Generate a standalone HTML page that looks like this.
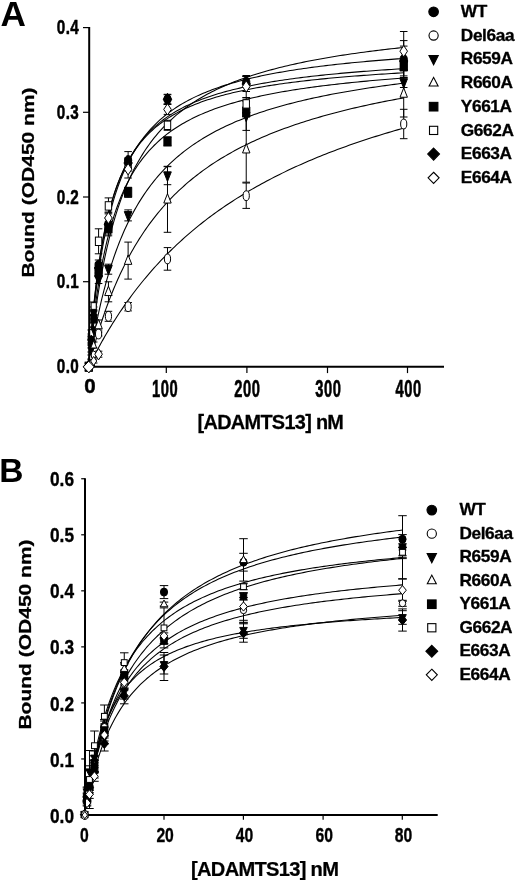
<!DOCTYPE html>
<html><head><meta charset="utf-8"><title>Figure</title>
<style>html,body{margin:0;padding:0;background:#fff;}svg{display:block;}</style>
</head><body>
<svg width="520" height="883" viewBox="0 0 520 883" font-family="Liberation Sans, Arial, Helvetica, sans-serif" font-weight="bold" fill="#000" stroke="#000">
<rect x="0" y="0" width="520" height="883" fill="#fff" stroke="none"/>
<g id="curvesA">
<polyline points="88.75,366.70 88.84,365.79 89.03,363.94 89.29,361.46 89.61,358.47 89.98,355.06 90.40,351.29 90.86,347.21 91.36,342.88 91.90,338.33 92.48,333.61 93.09,328.74 93.74,323.75 94.43,318.67 95.14,313.53 95.89,308.34 96.66,303.13 97.47,297.90 98.30,292.68 99.17,287.48 100.06,282.31 100.97,277.18 101.92,272.10 102.89,267.08 103.89,262.12 104.91,257.23 105.95,252.42 107.02,247.68 108.12,243.03 109.24,238.46 110.38,233.97 111.55,229.58 112.73,225.27 113.94,221.05 115.18,216.92 116.43,212.88 117.71,208.93 119.00,205.07 120.32,201.29 121.66,197.61 123.02,194.01 124.40,190.49 125.81,187.06 127.23,183.71 128.67,180.44 130.13,177.24 131.61,174.13 133.11,171.09 134.63,168.12 136.17,165.23 137.73,162.41 139.31,159.66 140.90,156.97 142.52,154.35 144.15,151.79 145.80,149.30 147.47,146.86 149.15,144.49 150.86,142.17 152.58,139.91 154.32,137.70 156.08,135.55 157.85,133.45 159.64,131.39 161.45,129.39 163.28,127.43 165.12,125.52 166.98,123.66 168.86,121.84 170.75,120.06 172.66,118.32 174.59,116.62 176.53,114.96 178.49,113.34 180.46,111.75 182.45,110.21 184.46,108.69 186.48,107.21 188.52,105.76 190.58,104.35 192.65,102.97 194.73,101.61 196.84,100.29 198.95,98.99 201.08,97.72 203.23,96.48 205.39,95.27 207.57,94.08 209.76,92.92 211.97,91.78 214.19,90.66 216.43,89.57 218.68,88.50 220.95,87.45 223.23,86.42 225.53,85.42 227.84,84.43 230.17,83.46 232.51,82.52 234.86,81.59 237.23,80.68 239.61,79.79 242.01,78.91 244.42,78.05 246.84,77.21 249.28,76.39 251.74,75.58 254.20,74.78 256.69,74.00 259.18,73.23 261.69,72.48 264.21,71.75 266.75,71.02 269.30,70.31 271.86,69.61 274.44,68.93 277.03,68.25 279.63,67.59 282.25,66.94 284.88,66.31 287.52,65.68 290.18,65.06 292.85,64.46 295.53,63.86 298.23,63.28 300.94,62.70 303.66,62.14 306.40,61.58 309.14,61.04 311.91,60.50 314.68,59.97 317.47,59.45 320.27,58.94 323.08,58.44 325.90,57.94 328.74,57.46 331.59,56.98 334.46,56.51 337.33,56.04 340.22,55.58 343.12,55.14 346.03,54.69 348.96,54.26 351.90,53.83 354.85,53.41 357.81,52.99 360.79,52.58 363.77,52.18 366.77,51.78 369.79,51.39 372.81,51.00 375.85,50.62 378.89,50.25 381.95,49.88 385.03,49.52 388.11,49.16 391.21,48.81 394.31,48.46 397.43,48.12 400.57,47.78 403.71,47.45" fill="none" stroke-width="1.08"/>
<polyline points="88.75,366.70 88.84,365.44 89.03,362.92 89.29,359.55 89.61,355.51 89.98,350.94 90.40,345.93 90.86,340.58 91.36,334.95 91.90,329.11 92.48,323.11 93.09,317.01 93.74,310.83 94.43,304.62 95.14,298.41 95.89,292.23 96.66,286.09 97.47,280.02 98.30,274.04 99.17,268.14 100.06,262.36 100.97,256.69 101.92,251.15 102.89,245.73 103.89,240.44 104.91,235.29 105.95,230.27 107.02,225.39 108.12,220.64 109.24,216.03 110.38,211.55 111.55,207.20 112.73,202.98 113.94,198.89 115.18,194.92 116.43,191.08 117.71,187.35 119.00,183.73 120.32,180.23 121.66,176.84 123.02,173.55 124.40,170.36 125.81,167.27 127.23,164.28 128.67,161.38 130.13,158.57 131.61,155.85 133.11,153.20 134.63,150.64 136.17,148.16 137.73,145.75 139.31,143.42 140.90,141.15 142.52,138.95 144.15,136.82 145.80,134.75 147.47,132.74 149.15,130.79 150.86,128.89 152.58,127.05 154.32,125.26 156.08,123.53 157.85,121.84 159.64,120.20 161.45,118.60 163.28,117.05 165.12,115.54 166.98,114.07 168.86,112.64 170.75,111.25 172.66,109.90 174.59,108.58 176.53,107.30 178.49,106.05 180.46,104.83 182.45,103.64 184.46,102.49 186.48,101.36 188.52,100.26 190.58,99.19 192.65,98.14 194.73,97.12 196.84,96.13 198.95,95.16 201.08,94.21 203.23,93.29 205.39,92.38 207.57,91.50 209.76,90.64 211.97,89.80 214.19,88.98 216.43,88.17 218.68,87.39 220.95,86.62 223.23,85.87 225.53,85.13 227.84,84.42 230.17,83.71 232.51,83.03 234.86,82.36 237.23,81.70 239.61,81.05 242.01,80.42 244.42,79.81 246.84,79.20 249.28,78.61 251.74,78.03 254.20,77.46 256.69,76.91 259.18,76.36 261.69,75.83 264.21,75.30 266.75,74.79 269.30,74.29 271.86,73.79 274.44,73.31 277.03,72.83 279.63,72.37 282.25,71.91 284.88,71.46 287.52,71.02 290.18,70.59 292.85,70.16 295.53,69.75 298.23,69.34 300.94,68.94 303.66,68.54 306.40,68.16 309.14,67.78 311.91,67.40 314.68,67.04 317.47,66.68 320.27,66.32 323.08,65.97 325.90,65.63 328.74,65.29 331.59,64.96 334.46,64.64 337.33,64.32 340.22,64.00 343.12,63.70 346.03,63.39 348.96,63.09 351.90,62.80 354.85,62.51 357.81,62.22 360.79,61.94 363.77,61.67 366.77,61.40 369.79,61.13 372.81,60.86 375.85,60.61 378.89,60.35 381.95,60.10 385.03,59.85 388.11,59.61 391.21,59.37 394.31,59.13 397.43,58.90 400.57,58.67 403.71,58.44" fill="none" stroke-width="1.08"/>
<polyline points="88.75,366.70 88.84,365.32 89.03,362.56 89.29,358.88 89.61,354.49 89.98,349.53 90.40,344.12 90.86,338.37 91.36,332.35 91.90,326.14 92.48,319.79 93.09,313.35 93.74,306.88 94.43,300.41 95.14,293.97 95.89,287.59 96.66,281.29 97.47,275.09 98.30,269.01 99.17,263.06 100.06,257.24 100.97,251.56 101.92,246.04 102.89,240.66 103.89,235.44 104.91,230.38 105.95,225.46 107.02,220.70 108.12,216.09 109.24,211.63 110.38,207.31 111.55,203.13 112.73,199.10 113.94,195.19 115.18,191.42 116.43,187.77 117.71,184.25 119.00,180.85 120.32,177.56 121.66,174.38 123.02,171.30 124.40,168.33 125.81,165.46 127.23,162.69 128.67,160.01 130.13,157.41 131.61,154.90 133.11,152.48 134.63,150.13 136.17,147.85 137.73,145.66 139.31,143.53 140.90,141.46 142.52,139.47 144.15,137.53 145.80,135.66 147.47,133.84 149.15,132.08 150.86,130.37 152.58,128.72 154.32,127.11 156.08,125.55 157.85,124.04 159.64,122.57 161.45,121.14 163.28,119.76 165.12,118.41 166.98,117.10 168.86,115.83 170.75,114.60 172.66,113.40 174.59,112.23 176.53,111.09 178.49,109.99 180.46,108.91 182.45,107.86 184.46,106.84 186.48,105.85 188.52,104.88 190.58,103.94 192.65,103.02 194.73,102.12 196.84,101.25 198.95,100.40 201.08,99.57 203.23,98.76 205.39,97.96 207.57,97.19 209.76,96.44 211.97,95.71 214.19,94.99 216.43,94.29 218.68,93.60 220.95,92.93 223.23,92.28 225.53,91.64 227.84,91.02 230.17,90.41 232.51,89.81 234.86,89.23 237.23,88.65 239.61,88.10 242.01,87.55 244.42,87.01 246.84,86.49 249.28,85.98 251.74,85.48 254.20,84.99 256.69,84.50 259.18,84.03 261.69,83.57 264.21,83.12 266.75,82.68 269.30,82.24 271.86,81.82 274.44,81.40 277.03,80.99 279.63,80.59 282.25,80.19 284.88,79.81 287.52,79.43 290.18,79.06 292.85,78.69 295.53,78.33 298.23,77.98 300.94,77.64 303.66,77.30 306.40,76.97 309.14,76.64 311.91,76.32 314.68,76.00 317.47,75.70 320.27,75.39 323.08,75.09 325.90,74.80 328.74,74.51 331.59,74.23 334.46,73.95 337.33,73.68 340.22,73.41 343.12,73.14 346.03,72.88 348.96,72.63 351.90,72.37 354.85,72.13 357.81,71.88 360.79,71.64 363.77,71.41 366.77,71.18 369.79,70.95 372.81,70.72 375.85,70.50 378.89,70.28 381.95,70.07 385.03,69.86 388.11,69.65 391.21,69.44 394.31,69.24 397.43,69.04 400.57,68.85 403.71,68.66" fill="none" stroke-width="1.08"/>
<polyline points="88.75,366.70 88.84,365.28 89.03,362.44 89.29,358.66 89.61,354.15 89.98,349.06 90.40,343.53 90.86,337.65 91.36,331.51 91.90,325.18 92.48,318.72 93.09,312.19 93.74,305.64 94.43,299.10 95.14,292.60 95.89,286.17 96.66,279.85 97.47,273.63 98.30,267.54 99.17,261.58 100.06,255.78 100.97,250.13 101.92,244.63 102.89,239.29 103.89,234.12 104.91,229.10 105.95,224.24 107.02,219.54 108.12,215.00 109.24,210.60 110.38,206.36 111.55,202.26 112.73,198.29 113.94,194.47 115.18,190.78 116.43,187.21 117.71,183.77 119.00,180.45 120.32,177.24 121.66,174.15 123.02,171.16 124.40,168.27 125.81,165.48 127.23,162.79 128.67,160.19 130.13,157.68 131.61,155.25 133.11,152.90 134.63,150.63 136.17,148.43 137.73,146.31 139.31,144.25 140.90,142.27 142.52,140.34 144.15,138.48 145.80,136.67 147.47,134.92 149.15,133.23 150.86,131.59 152.58,130.00 154.32,128.45 156.08,126.96 157.85,125.51 159.64,124.10 161.45,122.73 163.28,121.40 165.12,120.11 166.98,118.86 168.86,117.64 170.75,116.46 172.66,115.31 174.59,114.20 176.53,113.11 178.49,112.05 180.46,111.02 182.45,110.02 184.46,109.05 186.48,108.10 188.52,107.18 190.58,106.28 192.65,105.40 194.73,104.55 196.84,103.71 198.95,102.90 201.08,102.11 203.23,101.34 205.39,100.59 207.57,99.85 209.76,99.14 211.97,98.44 214.19,97.75 216.43,97.09 218.68,96.44 220.95,95.80 223.23,95.18 225.53,94.57 227.84,93.98 230.17,93.40 232.51,92.83 234.86,92.28 237.23,91.73 239.61,91.20 242.01,90.68 244.42,90.18 246.84,89.68 249.28,89.19 251.74,88.72 254.20,88.25 256.69,87.80 259.18,87.35 261.69,86.91 264.21,86.48 266.75,86.06 269.30,85.65 271.86,85.25 274.44,84.85 277.03,84.46 279.63,84.08 282.25,83.71 284.88,83.34 287.52,82.98 290.18,82.63 292.85,82.29 295.53,81.95 298.23,81.61 300.94,81.29 303.66,80.97 306.40,80.65 309.14,80.34 311.91,80.04 314.68,79.74 317.47,79.45 320.27,79.16 323.08,78.88 325.90,78.60 328.74,78.33 331.59,78.06 334.46,77.80 337.33,77.54 340.22,77.29 343.12,77.04 346.03,76.79 348.96,76.55 351.90,76.31 354.85,76.08 357.81,75.85 360.79,75.62 363.77,75.40 366.77,75.18 369.79,74.96 372.81,74.75 375.85,74.54 378.89,74.33 381.95,74.13 385.03,73.93 388.11,73.74 391.21,73.54 394.31,73.35 397.43,73.16 400.57,72.98 403.71,72.80" fill="none" stroke-width="1.08"/>
<polyline points="88.75,366.70 88.84,365.63 89.03,363.47 89.29,360.58 89.61,357.11 89.98,353.17 90.40,348.85 90.86,344.22 91.36,339.33 91.90,334.24 92.48,329.00 93.09,323.64 93.74,318.20 94.43,312.72 95.14,307.21 95.89,301.71 96.66,296.23 97.47,290.79 98.30,285.40 99.17,280.08 100.06,274.84 100.97,269.69 101.92,264.64 102.89,259.68 103.89,254.83 104.91,250.08 105.95,245.45 107.02,240.93 108.12,236.52 109.24,232.23 110.38,228.05 111.55,223.98 112.73,220.02 113.94,216.17 115.18,212.42 116.43,208.79 117.71,205.26 119.00,201.82 120.32,198.49 121.66,195.25 123.02,192.11 124.40,189.06 125.81,186.10 127.23,183.22 128.67,180.43 130.13,177.72 131.61,175.09 133.11,172.53 134.63,170.05 136.17,167.64 137.73,165.30 139.31,163.03 140.90,160.82 142.52,158.68 144.15,156.59 145.80,154.57 147.47,152.60 149.15,150.68 150.86,148.82 152.58,147.01 154.32,145.25 156.08,143.54 157.85,141.87 159.64,140.25 161.45,138.67 163.28,137.14 165.12,135.64 166.98,134.19 168.86,132.77 170.75,131.39 172.66,130.05 174.59,128.73 176.53,127.46 178.49,126.21 180.46,125.00 182.45,123.81 184.46,122.66 186.48,121.53 188.52,120.43 190.58,119.36 192.65,118.32 194.73,117.30 196.84,116.30 198.95,115.32 201.08,114.37 203.23,113.45 205.39,112.54 207.57,111.65 209.76,110.79 211.97,109.94 214.19,109.11 216.43,108.30 218.68,107.51 220.95,106.74 223.23,105.98 225.53,105.24 227.84,104.51 230.17,103.80 232.51,103.11 234.86,102.43 237.23,101.77 239.61,101.11 242.01,100.48 244.42,99.85 246.84,99.24 249.28,98.64 251.74,98.05 254.20,97.48 256.69,96.91 259.18,96.36 261.69,95.82 264.21,95.28 266.75,94.76 269.30,94.25 271.86,93.75 274.44,93.26 277.03,92.77 279.63,92.30 282.25,91.83 284.88,91.38 287.52,90.93 290.18,90.49 292.85,90.06 295.53,89.63 298.23,89.22 300.94,88.81 303.66,88.41 306.40,88.01 309.14,87.62 311.91,87.24 314.68,86.87 317.47,86.50 320.27,86.14 323.08,85.78 325.90,85.43 328.74,85.09 331.59,84.75 334.46,84.42 337.33,84.09 340.22,83.77 343.12,83.45 346.03,83.14 348.96,82.84 351.90,82.53 354.85,82.24 357.81,81.95 360.79,81.66 363.77,81.38 366.77,81.10 369.79,80.82 372.81,80.55 375.85,80.29 378.89,80.03 381.95,79.77 385.03,79.52 388.11,79.27 391.21,79.02 394.31,78.78 397.43,78.54 400.57,78.30 403.71,78.07" fill="none" stroke-width="1.08"/>
<polyline points="88.75,366.70 88.84,366.09 89.03,364.85 89.29,363.19 89.61,361.17 89.98,358.85 90.40,356.28 90.86,353.48 91.36,350.49 91.90,347.32 92.48,344.01 93.09,340.57 93.74,337.02 94.43,333.37 95.14,329.65 95.89,325.86 96.66,322.02 97.47,318.15 98.30,314.24 99.17,310.31 100.06,306.37 100.97,302.43 101.92,298.49 102.89,294.57 103.89,290.66 104.91,286.78 105.95,282.92 107.02,279.10 108.12,275.31 109.24,271.55 110.38,267.85 111.55,264.18 112.73,260.56 113.94,256.99 115.18,253.47 116.43,250.01 117.71,246.59 119.00,243.23 120.32,239.92 121.66,236.67 123.02,233.47 124.40,230.33 125.81,227.25 127.23,224.21 128.67,221.24 130.13,218.31 131.61,215.45 133.11,212.63 134.63,209.87 136.17,207.16 137.73,204.51 139.31,201.90 140.90,199.35 142.52,196.85 144.15,194.39 145.80,191.99 147.47,189.63 149.15,187.32 150.86,185.05 152.58,182.83 154.32,180.66 156.08,178.52 157.85,176.43 159.64,174.38 161.45,172.38 163.28,170.41 165.12,168.48 166.98,166.59 168.86,164.74 170.75,162.93 172.66,161.15 174.59,159.40 176.53,157.69 178.49,156.02 180.46,154.38 182.45,152.77 184.46,151.19 186.48,149.64 188.52,148.12 190.58,146.63 192.65,145.17 194.73,143.74 196.84,142.34 198.95,140.96 201.08,139.61 203.23,138.28 205.39,136.98 207.57,135.71 209.76,134.46 211.97,133.23 214.19,132.02 216.43,130.84 218.68,129.68 220.95,128.54 223.23,127.42 225.53,126.32 227.84,125.24 230.17,124.18 232.51,123.14 234.86,122.12 237.23,121.12 239.61,120.13 242.01,119.16 244.42,118.21 246.84,117.28 249.28,116.36 251.74,115.46 254.20,114.57 256.69,113.70 259.18,112.84 261.69,112.00 264.21,111.17 266.75,110.36 269.30,109.56 271.86,108.77 274.44,108.00 277.03,107.23 279.63,106.49 282.25,105.75 284.88,105.03 287.52,104.31 290.18,103.61 292.85,102.92 295.53,102.24 298.23,101.58 300.94,100.92 303.66,100.27 306.40,99.63 309.14,99.01 311.91,98.39 314.68,97.78 317.47,97.18 320.27,96.60 323.08,96.02 325.90,95.44 328.74,94.88 331.59,94.33 334.46,93.78 337.33,93.24 340.22,92.71 343.12,92.19 346.03,91.68 348.96,91.17 351.90,90.67 354.85,90.18 357.81,89.69 360.79,89.22 363.77,88.75 366.77,88.28 369.79,87.82 372.81,87.37 375.85,86.93 378.89,86.49 381.95,86.05 385.03,85.63 388.11,85.21 391.21,84.79 394.31,84.38 397.43,83.98 400.57,83.58 403.71,83.19" fill="none" stroke-width="1.08"/>
<polyline points="88.75,366.70 88.84,366.32 89.03,365.56 89.29,364.52 89.61,363.25 89.98,361.80 90.40,360.17 90.86,358.38 91.36,356.46 91.90,354.42 92.48,352.26 93.09,349.99 93.74,347.64 94.43,345.20 95.14,342.68 95.89,340.10 96.66,337.45 97.47,334.75 98.30,332.00 99.17,329.21 100.06,326.38 100.97,323.53 101.92,320.64 102.89,317.73 103.89,314.81 104.91,311.87 105.95,308.92 107.02,305.96 108.12,303.01 109.24,300.05 110.38,297.09 111.55,294.14 112.73,291.20 113.94,288.26 115.18,285.34 116.43,282.43 117.71,279.54 119.00,276.67 120.32,273.81 121.66,270.98 123.02,268.17 124.40,265.38 125.81,262.61 127.23,259.87 128.67,257.15 130.13,254.46 131.61,251.80 133.11,249.17 134.63,246.56 136.17,243.98 137.73,241.43 139.31,238.91 140.90,236.42 142.52,233.96 144.15,231.53 145.80,229.13 147.47,226.76 149.15,224.41 150.86,222.10 152.58,219.82 154.32,217.57 156.08,215.35 157.85,213.16 159.64,211.00 161.45,208.86 163.28,206.76 165.12,204.68 166.98,202.64 168.86,200.62 170.75,198.63 172.66,196.67 174.59,194.74 176.53,192.83 178.49,190.95 180.46,189.10 182.45,187.28 184.46,185.48 186.48,183.70 188.52,181.96 190.58,180.23 192.65,178.54 194.73,176.86 196.84,175.21 198.95,173.59 201.08,171.99 203.23,170.41 205.39,168.86 207.57,167.32 209.76,165.81 211.97,164.32 214.19,162.86 216.43,161.41 218.68,159.99 220.95,158.58 223.23,157.20 225.53,155.84 227.84,154.49 230.17,153.17 232.51,151.86 234.86,150.58 237.23,149.31 239.61,148.06 242.01,146.83 244.42,145.61 246.84,144.41 249.28,143.23 251.74,142.07 254.20,140.92 256.69,139.79 259.18,138.68 261.69,137.58 264.21,136.49 266.75,135.42 269.30,134.37 271.86,133.33 274.44,132.30 277.03,131.29 279.63,130.30 282.25,129.31 284.88,128.34 287.52,127.39 290.18,126.44 292.85,125.51 295.53,124.60 298.23,123.69 300.94,122.80 303.66,121.92 306.40,121.05 309.14,120.19 311.91,119.34 314.68,118.51 317.47,117.68 320.27,116.87 323.08,116.07 325.90,115.27 328.74,114.49 331.59,113.72 334.46,112.96 337.33,112.21 340.22,111.46 343.12,110.73 346.03,110.01 348.96,109.30 351.90,108.59 354.85,107.89 357.81,107.21 360.79,106.53 363.77,105.86 366.77,105.20 369.79,104.54 372.81,103.90 375.85,103.26 378.89,102.63 381.95,102.01 385.03,101.40 388.11,100.79 391.21,100.19 394.31,99.60 397.43,99.01 400.57,98.44 403.71,97.87" fill="none" stroke-width="1.08"/>
<polyline points="88.75,366.70 88.84,366.51 89.03,366.12 89.29,365.59 89.61,364.95 89.98,364.20 90.40,363.36 90.86,362.44 91.36,361.44 91.90,360.37 92.48,359.23 93.09,358.03 93.74,356.77 94.43,355.45 95.14,354.08 95.89,352.66 96.66,351.20 97.47,349.69 98.30,348.14 99.17,346.55 100.06,344.93 100.97,343.27 101.92,341.58 102.89,339.86 103.89,338.11 104.91,336.33 105.95,334.53 107.02,332.71 108.12,330.86 109.24,329.00 110.38,327.12 111.55,325.22 112.73,323.31 113.94,321.38 115.18,319.44 116.43,317.48 117.71,315.52 119.00,313.55 120.32,311.57 121.66,309.58 123.02,307.59 124.40,305.59 125.81,303.59 127.23,301.58 128.67,299.57 130.13,297.56 131.61,295.55 133.11,293.54 134.63,291.53 136.17,289.53 137.73,287.52 139.31,285.52 140.90,283.52 142.52,281.52 144.15,279.53 145.80,277.54 147.47,275.56 149.15,273.59 150.86,271.62 152.58,269.66 154.32,267.70 156.08,265.76 157.85,263.82 159.64,261.89 161.45,259.96 163.28,258.05 165.12,256.15 166.98,254.25 168.86,252.37 170.75,250.50 172.66,248.63 174.59,246.78 176.53,244.94 178.49,243.11 180.46,241.29 182.45,239.48 184.46,237.68 186.48,235.89 188.52,234.12 190.58,232.35 192.65,230.60 194.73,228.86 196.84,227.14 198.95,225.42 201.08,223.72 203.23,222.03 205.39,220.35 207.57,218.69 209.76,217.03 211.97,215.39 214.19,213.76 216.43,212.15 218.68,210.54 220.95,208.95 223.23,207.37 225.53,205.81 227.84,204.25 230.17,202.71 232.51,201.18 234.86,199.67 237.23,198.16 239.61,196.67 242.01,195.19 244.42,193.72 246.84,192.27 249.28,190.82 251.74,189.39 254.20,187.97 256.69,186.57 259.18,185.17 261.69,183.79 264.21,182.42 266.75,181.06 269.30,179.71 271.86,178.37 274.44,177.05 277.03,175.74 279.63,174.43 282.25,173.14 284.88,171.87 287.52,170.60 290.18,169.34 292.85,168.09 295.53,166.86 298.23,165.63 300.94,164.42 303.66,163.22 306.40,162.03 309.14,160.85 311.91,159.67 314.68,158.51 317.47,157.36 320.27,156.22 323.08,155.09 325.90,153.97 328.74,152.86 331.59,151.76 334.46,150.67 337.33,149.59 340.22,148.52 343.12,147.46 346.03,146.41 348.96,145.36 351.90,144.33 354.85,143.30 357.81,142.29 360.79,141.28 363.77,140.29 366.77,139.30 369.79,138.32 372.81,137.35 375.85,136.38 378.89,135.43 381.95,134.48 385.03,133.55 388.11,132.62 391.21,131.70 394.31,130.79 397.43,129.88 400.57,128.98 403.71,128.10" fill="none" stroke-width="1.08"/>
</g>
<g id="dataA">
<line x1="91.21" y1="334.00" x2="91.21" y2="340.00" stroke-width="1.0"/>
<line x1="87.41" y1="334.00" x2="95.01" y2="334.00" stroke-width="1.0"/>
<line x1="87.41" y1="340.00" x2="95.01" y2="340.00" stroke-width="1.0"/>
<line x1="93.67" y1="307.00" x2="93.67" y2="315.00" stroke-width="1.0"/>
<line x1="89.87" y1="307.00" x2="97.47" y2="307.00" stroke-width="1.0"/>
<line x1="89.87" y1="315.00" x2="97.47" y2="315.00" stroke-width="1.0"/>
<line x1="98.59" y1="260.00" x2="98.59" y2="270.00" stroke-width="1.0"/>
<line x1="94.79" y1="260.00" x2="102.39" y2="260.00" stroke-width="1.0"/>
<line x1="94.79" y1="270.00" x2="102.39" y2="270.00" stroke-width="1.0"/>
<line x1="108.44" y1="218.00" x2="108.44" y2="230.00" stroke-width="1.0"/>
<line x1="104.64" y1="218.00" x2="112.23" y2="218.00" stroke-width="1.0"/>
<line x1="104.64" y1="230.00" x2="112.23" y2="230.00" stroke-width="1.0"/>
<line x1="128.12" y1="151.60" x2="128.12" y2="169.20" stroke-width="1.0"/>
<line x1="124.32" y1="151.60" x2="131.92" y2="151.60" stroke-width="1.0"/>
<line x1="124.32" y1="169.20" x2="131.92" y2="169.20" stroke-width="1.0"/>
<line x1="167.49" y1="94.80" x2="167.49" y2="103.80" stroke-width="1.0"/>
<line x1="163.69" y1="94.80" x2="171.29" y2="94.80" stroke-width="1.0"/>
<line x1="163.69" y1="103.80" x2="171.29" y2="103.80" stroke-width="1.0"/>
<line x1="246.23" y1="76.50" x2="246.23" y2="87.50" stroke-width="1.0"/>
<line x1="242.43" y1="76.50" x2="250.03" y2="76.50" stroke-width="1.0"/>
<line x1="242.43" y1="87.50" x2="250.03" y2="87.50" stroke-width="1.0"/>
<line x1="403.71" y1="40.60" x2="403.71" y2="77.60" stroke-width="1.0"/>
<line x1="399.91" y1="40.60" x2="407.51" y2="40.60" stroke-width="1.0"/>
<line x1="399.91" y1="77.60" x2="407.51" y2="77.60" stroke-width="1.0"/>
<line x1="91.21" y1="360.00" x2="91.21" y2="362.00" stroke-width="1.0"/>
<line x1="87.41" y1="360.00" x2="95.01" y2="360.00" stroke-width="1.0"/>
<line x1="87.41" y1="362.00" x2="95.01" y2="362.00" stroke-width="1.0"/>
<line x1="93.67" y1="353.50" x2="93.67" y2="356.50" stroke-width="1.0"/>
<line x1="89.87" y1="353.50" x2="97.47" y2="353.50" stroke-width="1.0"/>
<line x1="89.87" y1="356.50" x2="97.47" y2="356.50" stroke-width="1.0"/>
<line x1="98.59" y1="332.00" x2="98.59" y2="336.00" stroke-width="1.0"/>
<line x1="94.79" y1="332.00" x2="102.39" y2="332.00" stroke-width="1.0"/>
<line x1="94.79" y1="336.00" x2="102.39" y2="336.00" stroke-width="1.0"/>
<line x1="108.44" y1="311.30" x2="108.44" y2="321.30" stroke-width="1.0"/>
<line x1="104.64" y1="311.30" x2="112.23" y2="311.30" stroke-width="1.0"/>
<line x1="104.64" y1="321.30" x2="112.23" y2="321.30" stroke-width="1.0"/>
<line x1="128.12" y1="302.50" x2="128.12" y2="310.90" stroke-width="1.0"/>
<line x1="124.32" y1="302.50" x2="131.92" y2="302.50" stroke-width="1.0"/>
<line x1="124.32" y1="310.90" x2="131.92" y2="310.90" stroke-width="1.0"/>
<line x1="167.49" y1="247.60" x2="167.49" y2="270.20" stroke-width="1.0"/>
<line x1="163.69" y1="247.60" x2="171.29" y2="247.60" stroke-width="1.0"/>
<line x1="163.69" y1="270.20" x2="171.29" y2="270.20" stroke-width="1.0"/>
<line x1="246.23" y1="183.00" x2="246.23" y2="208.40" stroke-width="1.0"/>
<line x1="242.43" y1="183.00" x2="250.03" y2="183.00" stroke-width="1.0"/>
<line x1="242.43" y1="208.40" x2="250.03" y2="208.40" stroke-width="1.0"/>
<line x1="403.71" y1="109.30" x2="403.71" y2="138.70" stroke-width="1.0"/>
<line x1="399.91" y1="109.30" x2="407.51" y2="109.30" stroke-width="1.0"/>
<line x1="399.91" y1="138.70" x2="407.51" y2="138.70" stroke-width="1.0"/>
<line x1="91.21" y1="348.00" x2="91.21" y2="352.00" stroke-width="1.0"/>
<line x1="87.41" y1="348.00" x2="95.01" y2="348.00" stroke-width="1.0"/>
<line x1="87.41" y1="352.00" x2="95.01" y2="352.00" stroke-width="1.0"/>
<line x1="93.67" y1="327.00" x2="93.67" y2="333.00" stroke-width="1.0"/>
<line x1="89.87" y1="327.00" x2="97.47" y2="327.00" stroke-width="1.0"/>
<line x1="89.87" y1="333.00" x2="97.47" y2="333.00" stroke-width="1.0"/>
<line x1="98.59" y1="275.50" x2="98.59" y2="283.50" stroke-width="1.0"/>
<line x1="94.79" y1="275.50" x2="102.39" y2="275.50" stroke-width="1.0"/>
<line x1="94.79" y1="283.50" x2="102.39" y2="283.50" stroke-width="1.0"/>
<line x1="108.44" y1="264.20" x2="108.44" y2="274.20" stroke-width="1.0"/>
<line x1="104.64" y1="264.20" x2="112.23" y2="264.20" stroke-width="1.0"/>
<line x1="104.64" y1="274.20" x2="112.23" y2="274.20" stroke-width="1.0"/>
<line x1="128.12" y1="209.90" x2="128.12" y2="220.90" stroke-width="1.0"/>
<line x1="124.32" y1="209.90" x2="131.92" y2="209.90" stroke-width="1.0"/>
<line x1="124.32" y1="220.90" x2="131.92" y2="220.90" stroke-width="1.0"/>
<line x1="167.49" y1="166.70" x2="167.49" y2="184.70" stroke-width="1.0"/>
<line x1="163.69" y1="166.70" x2="171.29" y2="166.70" stroke-width="1.0"/>
<line x1="163.69" y1="184.70" x2="171.29" y2="184.70" stroke-width="1.0"/>
<line x1="246.23" y1="101.60" x2="246.23" y2="130.40" stroke-width="1.0"/>
<line x1="242.43" y1="101.60" x2="250.03" y2="101.60" stroke-width="1.0"/>
<line x1="242.43" y1="130.40" x2="250.03" y2="130.40" stroke-width="1.0"/>
<line x1="403.71" y1="77.50" x2="403.71" y2="87.50" stroke-width="1.0"/>
<line x1="399.91" y1="77.50" x2="407.51" y2="77.50" stroke-width="1.0"/>
<line x1="399.91" y1="87.50" x2="407.51" y2="87.50" stroke-width="1.0"/>
<line x1="91.21" y1="355.00" x2="91.21" y2="359.00" stroke-width="1.0"/>
<line x1="87.41" y1="355.00" x2="95.01" y2="355.00" stroke-width="1.0"/>
<line x1="87.41" y1="359.00" x2="95.01" y2="359.00" stroke-width="1.0"/>
<line x1="93.67" y1="342.00" x2="93.67" y2="348.00" stroke-width="1.0"/>
<line x1="89.87" y1="342.00" x2="97.47" y2="342.00" stroke-width="1.0"/>
<line x1="89.87" y1="348.00" x2="97.47" y2="348.00" stroke-width="1.0"/>
<line x1="98.59" y1="320.00" x2="98.59" y2="330.00" stroke-width="1.0"/>
<line x1="94.79" y1="320.00" x2="102.39" y2="320.00" stroke-width="1.0"/>
<line x1="94.79" y1="330.00" x2="102.39" y2="330.00" stroke-width="1.0"/>
<line x1="108.44" y1="281.80" x2="108.44" y2="301.80" stroke-width="1.0"/>
<line x1="104.64" y1="281.80" x2="112.23" y2="281.80" stroke-width="1.0"/>
<line x1="104.64" y1="301.80" x2="112.23" y2="301.80" stroke-width="1.0"/>
<line x1="128.12" y1="242.10" x2="128.12" y2="279.10" stroke-width="1.0"/>
<line x1="124.32" y1="242.10" x2="131.92" y2="242.10" stroke-width="1.0"/>
<line x1="124.32" y1="279.10" x2="131.92" y2="279.10" stroke-width="1.0"/>
<line x1="167.49" y1="166.30" x2="167.49" y2="232.30" stroke-width="1.0"/>
<line x1="163.69" y1="166.30" x2="171.29" y2="166.30" stroke-width="1.0"/>
<line x1="163.69" y1="232.30" x2="171.29" y2="232.30" stroke-width="1.0"/>
<line x1="246.23" y1="116.20" x2="246.23" y2="182.20" stroke-width="1.0"/>
<line x1="242.43" y1="116.20" x2="250.03" y2="116.20" stroke-width="1.0"/>
<line x1="242.43" y1="182.20" x2="250.03" y2="182.20" stroke-width="1.0"/>
<line x1="403.71" y1="70.00" x2="403.71" y2="117.00" stroke-width="1.0"/>
<line x1="399.91" y1="70.00" x2="407.51" y2="70.00" stroke-width="1.0"/>
<line x1="399.91" y1="117.00" x2="407.51" y2="117.00" stroke-width="1.0"/>
<line x1="91.21" y1="339.00" x2="91.21" y2="345.00" stroke-width="1.0"/>
<line x1="87.41" y1="339.00" x2="95.01" y2="339.00" stroke-width="1.0"/>
<line x1="87.41" y1="345.00" x2="95.01" y2="345.00" stroke-width="1.0"/>
<line x1="93.67" y1="315.00" x2="93.67" y2="323.00" stroke-width="1.0"/>
<line x1="89.87" y1="315.00" x2="97.47" y2="315.00" stroke-width="1.0"/>
<line x1="89.87" y1="323.00" x2="97.47" y2="323.00" stroke-width="1.0"/>
<line x1="98.59" y1="267.00" x2="98.59" y2="277.00" stroke-width="1.0"/>
<line x1="94.79" y1="267.00" x2="102.39" y2="267.00" stroke-width="1.0"/>
<line x1="94.79" y1="277.00" x2="102.39" y2="277.00" stroke-width="1.0"/>
<line x1="108.44" y1="222.00" x2="108.44" y2="234.00" stroke-width="1.0"/>
<line x1="104.64" y1="222.00" x2="112.23" y2="222.00" stroke-width="1.0"/>
<line x1="104.64" y1="234.00" x2="112.23" y2="234.00" stroke-width="1.0"/>
<line x1="128.12" y1="187.30" x2="128.12" y2="197.30" stroke-width="1.0"/>
<line x1="124.32" y1="187.30" x2="131.92" y2="187.30" stroke-width="1.0"/>
<line x1="124.32" y1="197.30" x2="131.92" y2="197.30" stroke-width="1.0"/>
<line x1="167.49" y1="137.40" x2="167.49" y2="145.40" stroke-width="1.0"/>
<line x1="163.69" y1="137.40" x2="171.29" y2="137.40" stroke-width="1.0"/>
<line x1="163.69" y1="145.40" x2="171.29" y2="145.40" stroke-width="1.0"/>
<line x1="246.23" y1="107.00" x2="246.23" y2="117.00" stroke-width="1.0"/>
<line x1="242.43" y1="107.00" x2="250.03" y2="107.00" stroke-width="1.0"/>
<line x1="242.43" y1="117.00" x2="250.03" y2="117.00" stroke-width="1.0"/>
<line x1="403.71" y1="62.00" x2="403.71" y2="70.00" stroke-width="1.0"/>
<line x1="399.91" y1="62.00" x2="407.51" y2="62.00" stroke-width="1.0"/>
<line x1="399.91" y1="70.00" x2="407.51" y2="70.00" stroke-width="1.0"/>
<line x1="91.21" y1="330.00" x2="91.21" y2="336.00" stroke-width="1.0"/>
<line x1="87.41" y1="330.00" x2="95.01" y2="330.00" stroke-width="1.0"/>
<line x1="87.41" y1="336.00" x2="95.01" y2="336.00" stroke-width="1.0"/>
<line x1="93.67" y1="302.00" x2="93.67" y2="310.00" stroke-width="1.0"/>
<line x1="89.87" y1="302.00" x2="97.47" y2="302.00" stroke-width="1.0"/>
<line x1="89.87" y1="310.00" x2="97.47" y2="310.00" stroke-width="1.0"/>
<line x1="98.59" y1="228.80" x2="98.59" y2="253.80" stroke-width="1.0"/>
<line x1="94.79" y1="228.80" x2="102.39" y2="228.80" stroke-width="1.0"/>
<line x1="94.79" y1="253.80" x2="102.39" y2="253.80" stroke-width="1.0"/>
<line x1="108.44" y1="197.90" x2="108.44" y2="213.90" stroke-width="1.0"/>
<line x1="104.64" y1="197.90" x2="112.23" y2="197.90" stroke-width="1.0"/>
<line x1="104.64" y1="213.90" x2="112.23" y2="213.90" stroke-width="1.0"/>
<line x1="128.12" y1="159.00" x2="128.12" y2="171.00" stroke-width="1.0"/>
<line x1="124.32" y1="159.00" x2="131.92" y2="159.00" stroke-width="1.0"/>
<line x1="124.32" y1="171.00" x2="131.92" y2="171.00" stroke-width="1.0"/>
<line x1="167.49" y1="120.30" x2="167.49" y2="130.30" stroke-width="1.0"/>
<line x1="163.69" y1="120.30" x2="171.29" y2="120.30" stroke-width="1.0"/>
<line x1="163.69" y1="130.30" x2="171.29" y2="130.30" stroke-width="1.0"/>
<line x1="246.23" y1="97.90" x2="246.23" y2="109.90" stroke-width="1.0"/>
<line x1="242.43" y1="97.90" x2="250.03" y2="97.90" stroke-width="1.0"/>
<line x1="242.43" y1="109.90" x2="250.03" y2="109.90" stroke-width="1.0"/>
<line x1="403.71" y1="62.00" x2="403.71" y2="70.00" stroke-width="1.0"/>
<line x1="399.91" y1="62.00" x2="407.51" y2="62.00" stroke-width="1.0"/>
<line x1="399.91" y1="70.00" x2="407.51" y2="70.00" stroke-width="1.0"/>
<line x1="91.21" y1="337.00" x2="91.21" y2="343.00" stroke-width="1.0"/>
<line x1="87.41" y1="337.00" x2="95.01" y2="337.00" stroke-width="1.0"/>
<line x1="87.41" y1="343.00" x2="95.01" y2="343.00" stroke-width="1.0"/>
<line x1="93.67" y1="311.00" x2="93.67" y2="319.00" stroke-width="1.0"/>
<line x1="89.87" y1="311.00" x2="97.47" y2="311.00" stroke-width="1.0"/>
<line x1="89.87" y1="319.00" x2="97.47" y2="319.00" stroke-width="1.0"/>
<line x1="98.59" y1="263.00" x2="98.59" y2="273.00" stroke-width="1.0"/>
<line x1="94.79" y1="263.00" x2="102.39" y2="263.00" stroke-width="1.0"/>
<line x1="94.79" y1="273.00" x2="102.39" y2="273.00" stroke-width="1.0"/>
<line x1="108.44" y1="212.80" x2="108.44" y2="235.80" stroke-width="1.0"/>
<line x1="104.64" y1="212.80" x2="112.23" y2="212.80" stroke-width="1.0"/>
<line x1="104.64" y1="235.80" x2="112.23" y2="235.80" stroke-width="1.0"/>
<line x1="128.12" y1="158.00" x2="128.12" y2="168.00" stroke-width="1.0"/>
<line x1="124.32" y1="158.00" x2="131.92" y2="158.00" stroke-width="1.0"/>
<line x1="124.32" y1="168.00" x2="131.92" y2="168.00" stroke-width="1.0"/>
<line x1="167.49" y1="94.30" x2="167.49" y2="104.30" stroke-width="1.0"/>
<line x1="163.69" y1="94.30" x2="171.29" y2="94.30" stroke-width="1.0"/>
<line x1="163.69" y1="104.30" x2="171.29" y2="104.30" stroke-width="1.0"/>
<line x1="246.23" y1="76.50" x2="246.23" y2="91.50" stroke-width="1.0"/>
<line x1="242.43" y1="76.50" x2="250.03" y2="76.50" stroke-width="1.0"/>
<line x1="242.43" y1="91.50" x2="250.03" y2="91.50" stroke-width="1.0"/>
<line x1="403.71" y1="46.10" x2="403.71" y2="75.90" stroke-width="1.0"/>
<line x1="399.91" y1="46.10" x2="407.51" y2="46.10" stroke-width="1.0"/>
<line x1="399.91" y1="75.90" x2="407.51" y2="75.90" stroke-width="1.0"/>
<line x1="91.21" y1="361.50" x2="91.21" y2="365.50" stroke-width="1.0"/>
<line x1="87.41" y1="361.50" x2="95.01" y2="361.50" stroke-width="1.0"/>
<line x1="87.41" y1="365.50" x2="95.01" y2="365.50" stroke-width="1.0"/>
<line x1="93.67" y1="359.00" x2="93.67" y2="363.00" stroke-width="1.0"/>
<line x1="89.87" y1="359.00" x2="97.47" y2="359.00" stroke-width="1.0"/>
<line x1="89.87" y1="363.00" x2="97.47" y2="363.00" stroke-width="1.0"/>
<line x1="98.59" y1="351.20" x2="98.59" y2="357.20" stroke-width="1.0"/>
<line x1="94.79" y1="351.20" x2="102.39" y2="351.20" stroke-width="1.0"/>
<line x1="94.79" y1="357.20" x2="102.39" y2="357.20" stroke-width="1.0"/>
<line x1="108.44" y1="212.00" x2="108.44" y2="224.00" stroke-width="1.0"/>
<line x1="104.64" y1="212.00" x2="112.23" y2="212.00" stroke-width="1.0"/>
<line x1="104.64" y1="224.00" x2="112.23" y2="224.00" stroke-width="1.0"/>
<line x1="128.12" y1="160.40" x2="128.12" y2="178.00" stroke-width="1.0"/>
<line x1="124.32" y1="160.40" x2="131.92" y2="160.40" stroke-width="1.0"/>
<line x1="124.32" y1="178.00" x2="131.92" y2="178.00" stroke-width="1.0"/>
<line x1="167.49" y1="104.40" x2="167.49" y2="114.40" stroke-width="1.0"/>
<line x1="163.69" y1="104.40" x2="171.29" y2="104.40" stroke-width="1.0"/>
<line x1="163.69" y1="114.40" x2="171.29" y2="114.40" stroke-width="1.0"/>
<line x1="246.23" y1="75.50" x2="246.23" y2="97.50" stroke-width="1.0"/>
<line x1="242.43" y1="75.50" x2="250.03" y2="75.50" stroke-width="1.0"/>
<line x1="242.43" y1="97.50" x2="250.03" y2="97.50" stroke-width="1.0"/>
<line x1="403.71" y1="31.50" x2="403.71" y2="70.90" stroke-width="1.0"/>
<line x1="399.91" y1="31.50" x2="407.51" y2="31.50" stroke-width="1.0"/>
<line x1="399.91" y1="70.90" x2="407.51" y2="70.90" stroke-width="1.0"/>
<ellipse cx="88.75" cy="366.70" rx="3.60" ry="4.80" fill="#000" stroke="#000" stroke-width="1.0"/>
<ellipse cx="88.75" cy="366.70" rx="3.10" ry="4.90" fill="#fff" stroke="#000" stroke-width="1.0"/>
<polygon points="84.95,362.86 92.55,362.86 88.75,372.46" fill="#000" stroke="#000" stroke-width="1.0"/>
<polygon points="85.05,370.46 92.45,370.46 88.75,361.06" fill="#fff" stroke="#000" stroke-width="1.0"/>
<rect x="85.15" y="362.10" width="7.20" height="9.20" fill="#000" stroke="#000" stroke-width="1.0"/>
<rect x="85.55" y="362.50" width="6.40" height="8.40" fill="#fff" stroke="#000" stroke-width="1.0"/>
<polygon points="88.75,360.70 92.95,366.70 88.75,372.70 84.55,366.70" fill="#000" stroke="#000" stroke-width="1.0"/>
<polygon points="88.75,361.15 94.25,366.90 88.75,372.65 83.25,366.90" fill="#fff" stroke="#000" stroke-width="1.0"/>
<ellipse cx="91.21" cy="337.00" rx="2.88" ry="3.84" fill="#000" stroke="#000" stroke-width="1.0"/>
<ellipse cx="91.21" cy="361.00" rx="2.48" ry="3.92" fill="#fff" stroke="#000" stroke-width="1.0"/>
<polygon points="88.17,346.93 94.25,346.93 91.21,354.61" fill="#000" stroke="#000" stroke-width="1.0"/>
<polygon points="88.25,360.01 94.17,360.01 91.21,352.49" fill="#fff" stroke="#000" stroke-width="1.0"/>
<rect x="88.33" y="338.32" width="5.76" height="7.36" fill="#000" stroke="#000" stroke-width="1.0"/>
<rect x="88.65" y="329.64" width="5.12" height="6.72" fill="#fff" stroke="#000" stroke-width="1.0"/>
<polygon points="91.21,335.20 94.57,340.00 91.21,344.80 87.85,340.00" fill="#000" stroke="#000" stroke-width="1.0"/>
<polygon points="91.21,358.94 94.25,363.50 91.21,368.06 88.17,363.50" fill="#fff" stroke="#000" stroke-width="1.0"/>
<ellipse cx="93.67" cy="311.00" rx="2.88" ry="3.84" fill="#000" stroke="#000" stroke-width="1.0"/>
<ellipse cx="93.67" cy="355.00" rx="2.48" ry="3.92" fill="#fff" stroke="#000" stroke-width="1.0"/>
<polygon points="90.63,326.93 96.71,326.93 93.67,334.61" fill="#000" stroke="#000" stroke-width="1.0"/>
<polygon points="90.71,348.01 96.63,348.01 93.67,340.49" fill="#fff" stroke="#000" stroke-width="1.0"/>
<rect x="90.79" y="315.32" width="5.76" height="7.36" fill="#000" stroke="#000" stroke-width="1.0"/>
<rect x="91.11" y="302.64" width="5.12" height="6.72" fill="#fff" stroke="#000" stroke-width="1.0"/>
<polygon points="93.67,310.20 97.03,315.00 93.67,319.80 90.31,315.00" fill="#000" stroke="#000" stroke-width="1.0"/>
<polygon points="93.67,356.44 96.71,361.00 93.67,365.56 90.63,361.00" fill="#fff" stroke="#000" stroke-width="1.0"/>
<ellipse cx="98.59" cy="265.00" rx="3.60" ry="4.80" fill="#000" stroke="#000" stroke-width="1.0"/>
<ellipse cx="98.59" cy="334.00" rx="3.10" ry="4.90" fill="#fff" stroke="#000" stroke-width="1.0"/>
<polygon points="94.79,275.66 102.39,275.66 98.59,285.26" fill="#000" stroke="#000" stroke-width="1.0"/>
<polygon points="94.89,328.76 102.29,328.76 98.59,319.36" fill="#fff" stroke="#000" stroke-width="1.0"/>
<rect x="94.99" y="267.40" width="7.20" height="9.20" fill="#000" stroke="#000" stroke-width="1.0"/>
<rect x="95.39" y="237.10" width="6.40" height="8.40" fill="#fff" stroke="#000" stroke-width="1.0"/>
<polygon points="98.59,262.00 102.79,268.00 98.59,274.00 94.39,268.00" fill="#000" stroke="#000" stroke-width="1.0"/>
<polygon points="98.59,348.50 102.39,354.20 98.59,359.90 94.79,354.20" fill="#fff" stroke="#000" stroke-width="1.0"/>
<ellipse cx="108.44" cy="224.00" rx="3.60" ry="4.80" fill="#000" stroke="#000" stroke-width="1.0"/>
<ellipse cx="108.44" cy="316.30" rx="3.10" ry="4.90" fill="#fff" stroke="#000" stroke-width="1.0"/>
<polygon points="104.64,265.36 112.23,265.36 108.44,274.96" fill="#000" stroke="#000" stroke-width="1.0"/>
<polygon points="104.73,295.56 112.14,295.56 108.44,286.16" fill="#fff" stroke="#000" stroke-width="1.0"/>
<rect x="104.84" y="223.40" width="7.20" height="9.20" fill="#000" stroke="#000" stroke-width="1.0"/>
<rect x="105.23" y="201.70" width="6.40" height="8.40" fill="#fff" stroke="#000" stroke-width="1.0"/>
<polygon points="108.44,218.30 112.64,224.30 108.44,230.30 104.23,224.30" fill="#000" stroke="#000" stroke-width="1.0"/>
<polygon points="108.44,212.30 112.23,218.00 108.44,223.70 104.64,218.00" fill="#fff" stroke="#000" stroke-width="1.0"/>
<ellipse cx="128.12" cy="160.40" rx="3.60" ry="4.80" fill="#000" stroke="#000" stroke-width="1.0"/>
<ellipse cx="128.12" cy="306.70" rx="3.10" ry="4.90" fill="#fff" stroke="#000" stroke-width="1.0"/>
<polygon points="124.32,211.56 131.92,211.56 128.12,221.16" fill="#000" stroke="#000" stroke-width="1.0"/>
<polygon points="124.42,264.36 131.82,264.36 128.12,254.96" fill="#fff" stroke="#000" stroke-width="1.0"/>
<rect x="124.52" y="187.70" width="7.20" height="9.20" fill="#000" stroke="#000" stroke-width="1.0"/>
<rect x="124.92" y="160.80" width="6.40" height="8.40" fill="#fff" stroke="#000" stroke-width="1.0"/>
<polygon points="128.12,157.00 132.32,163.00 128.12,169.00 123.92,163.00" fill="#000" stroke="#000" stroke-width="1.0"/>
<polygon points="128.12,163.50 131.92,169.20 128.12,174.90 124.32,169.20" fill="#fff" stroke="#000" stroke-width="1.0"/>
<ellipse cx="167.49" cy="99.30" rx="3.60" ry="4.80" fill="#000" stroke="#000" stroke-width="1.0"/>
<ellipse cx="167.49" cy="258.90" rx="3.10" ry="4.90" fill="#fff" stroke="#000" stroke-width="1.0"/>
<polygon points="163.69,171.86 171.29,171.86 167.49,181.46" fill="#000" stroke="#000" stroke-width="1.0"/>
<polygon points="163.79,203.06 171.19,203.06 167.49,193.66" fill="#fff" stroke="#000" stroke-width="1.0"/>
<rect x="163.89" y="136.80" width="7.20" height="9.20" fill="#000" stroke="#000" stroke-width="1.0"/>
<rect x="164.29" y="121.10" width="6.40" height="8.40" fill="#fff" stroke="#000" stroke-width="1.0"/>
<polygon points="167.49,93.30 171.69,99.30 167.49,105.30 163.29,99.30" fill="#000" stroke="#000" stroke-width="1.0"/>
<polygon points="167.49,103.70 171.29,109.40 167.49,115.10 163.69,109.40" fill="#fff" stroke="#000" stroke-width="1.0"/>
<ellipse cx="246.23" cy="82.00" rx="3.60" ry="4.80" fill="#000" stroke="#000" stroke-width="1.0"/>
<ellipse cx="246.23" cy="195.70" rx="3.10" ry="4.90" fill="#fff" stroke="#000" stroke-width="1.0"/>
<polygon points="242.43,112.16 250.03,112.16 246.23,121.76" fill="#000" stroke="#000" stroke-width="1.0"/>
<polygon points="242.53,152.96 249.93,152.96 246.23,143.56" fill="#fff" stroke="#000" stroke-width="1.0"/>
<rect x="242.63" y="107.40" width="7.20" height="9.20" fill="#000" stroke="#000" stroke-width="1.0"/>
<rect x="243.03" y="99.70" width="6.40" height="8.40" fill="#fff" stroke="#000" stroke-width="1.0"/>
<polygon points="246.23,78.00 250.43,84.00 246.23,90.00 242.03,84.00" fill="#000" stroke="#000" stroke-width="1.0"/>
<polygon points="246.23,80.80 250.03,86.50 246.23,92.20 242.43,86.50" fill="#fff" stroke="#000" stroke-width="1.0"/>
<rect x="400.51" y="61.80" width="6.40" height="8.40" fill="#fff" stroke="#000" stroke-width="1.0"/>
<ellipse cx="403.71" cy="59.10" rx="3.60" ry="4.80" fill="#000" stroke="#000" stroke-width="1.0"/>
<ellipse cx="403.71" cy="124.00" rx="3.10" ry="4.90" fill="#fff" stroke="#000" stroke-width="1.0"/>
<polygon points="399.91,78.66 407.51,78.66 403.71,88.26" fill="#000" stroke="#000" stroke-width="1.0"/>
<polygon points="400.01,97.26 407.41,97.26 403.71,87.86" fill="#fff" stroke="#000" stroke-width="1.0"/>
<rect x="400.11" y="61.40" width="7.20" height="9.20" fill="#000" stroke="#000" stroke-width="1.0"/>
<polygon points="403.71,55.00 407.91,61.00 403.71,67.00 399.51,61.00" fill="#000" stroke="#000" stroke-width="1.0"/>
<polygon points="403.71,45.50 407.51,51.20 403.71,56.90 399.91,51.20" fill="#fff" stroke="#000" stroke-width="1.0"/>
</g>
<g id="axesA">
<line x1="89.20" y1="27.10" x2="89.20" y2="367.70" stroke-width="2"/>
<line x1="88.20" y1="366.70" x2="444.00" y2="366.70" stroke-width="2"/>
<line x1="83.00" y1="27.60" x2="89.20" y2="27.60" stroke-width="1.2"/>
<line x1="83.00" y1="112.30" x2="89.20" y2="112.30" stroke-width="1.2"/>
<line x1="83.00" y1="197.00" x2="89.20" y2="197.00" stroke-width="1.2"/>
<line x1="83.00" y1="281.70" x2="89.20" y2="281.70" stroke-width="1.2"/>
<line x1="83.00" y1="366.40" x2="89.20" y2="366.40" stroke-width="1.2"/>
<line x1="166.30" y1="366.70" x2="166.30" y2="373.10" stroke-width="1.2"/>
<line x1="246.90" y1="366.70" x2="246.90" y2="373.10" stroke-width="1.2"/>
<line x1="327.50" y1="366.70" x2="327.50" y2="373.10" stroke-width="1.2"/>
<line x1="407.50" y1="366.70" x2="407.50" y2="373.10" stroke-width="1.2"/>
</g>
<polygon points="88.75,361.15 94.25,366.90 88.75,372.65 83.25,366.90" fill="#fff" stroke="#000" stroke-width="1.0"/>
<g id="textA" stroke="none">
<text transform="translate(79.20,34.30) scale(0.77,1)" font-size="19.8" text-anchor="end" stroke="#000" stroke-width="0.45" vector-effect="non-scaling-stroke" stroke-linejoin="round" letter-spacing="0.5">0.4</text>
<text transform="translate(79.20,119.00) scale(0.77,1)" font-size="19.8" text-anchor="end" stroke="#000" stroke-width="0.45" vector-effect="non-scaling-stroke" stroke-linejoin="round" letter-spacing="0.5">0.3</text>
<text transform="translate(79.20,203.70) scale(0.77,1)" font-size="19.8" text-anchor="end" stroke="#000" stroke-width="0.45" vector-effect="non-scaling-stroke" stroke-linejoin="round" letter-spacing="0.5">0.2</text>
<text transform="translate(79.20,288.40) scale(0.77,1)" font-size="19.8" text-anchor="end" stroke="#000" stroke-width="0.45" vector-effect="non-scaling-stroke" stroke-linejoin="round" letter-spacing="0.5">0.1</text>
<text transform="translate(79.20,373.10) scale(0.77,1)" font-size="19.8" text-anchor="end" stroke="#000" stroke-width="0.45" vector-effect="non-scaling-stroke" stroke-linejoin="round" letter-spacing="0.5">0.0</text>
<text transform="translate(89.90,393.20) scale(1.06,1)" font-size="19.4" text-anchor="middle" stroke="#000" stroke-width="0.45" vector-effect="non-scaling-stroke" stroke-linejoin="round" >0</text>
<text transform="translate(165.10,396.80) scale(0.64,1)" font-size="23.0" text-anchor="middle" stroke="#000" stroke-width="0.5" vector-effect="non-scaling-stroke" stroke-linejoin="round" letter-spacing="0.8">100</text>
<text transform="translate(247.30,396.80) scale(0.64,1)" font-size="23.0" text-anchor="middle" stroke="#000" stroke-width="0.5" vector-effect="non-scaling-stroke" stroke-linejoin="round" letter-spacing="0.8">200</text>
<text transform="translate(328.30,396.80) scale(0.64,1)" font-size="23.0" text-anchor="middle" stroke="#000" stroke-width="0.5" vector-effect="non-scaling-stroke" stroke-linejoin="round" letter-spacing="0.8">300</text>
<text transform="translate(408.60,396.80) scale(0.64,1)" font-size="23.0" text-anchor="middle" stroke="#000" stroke-width="0.5" vector-effect="non-scaling-stroke" stroke-linejoin="round" letter-spacing="0.8">400</text>
<text transform="translate(270.40,429.30) scale(0.995,1)" font-size="20.0" text-anchor="middle" stroke="#000" stroke-width="0.25" vector-effect="non-scaling-stroke" stroke-linejoin="round" letter-spacing="-0.7">[ADAMTS13] nM</text>
<text transform="translate(33.80,182.50) rotate(-90) scale(1.215,1)" font-size="17.3" text-anchor="middle" stroke="#000" stroke-width="0.3" vector-effect="non-scaling-stroke" stroke-linejoin="round" >Bound (OD450 nm)</text>
<text transform="translate(0.50,26.40)" font-size="35.2" text-anchor="start"  >A</text>
</g>
<g id="legA">
<ellipse cx="433.60" cy="11.80" rx="4.80" ry="4.80" fill="#000" stroke="#000" stroke-width="1.1"/>
<ellipse cx="433.60" cy="35.52" rx="4.60" ry="4.60" fill="#fff" stroke="#000" stroke-width="1.1"/>
<polygon points="428.95,55.52 438.25,55.52 433.60,64.82" fill="#000" stroke="#000" stroke-width="1.1"/>
<polygon points="429.10,85.95 438.10,85.95 433.60,77.35" fill="#fff" stroke="#000" stroke-width="1.1"/>
<rect x="429.30" y="102.38" width="8.60" height="8.60" fill="#000" stroke="#000" stroke-width="1.1"/>
<rect x="429.50" y="126.30" width="8.20" height="8.20" fill="#fff" stroke="#000" stroke-width="1.1"/>
<polygon points="433.60,148.12 439.50,154.12 433.60,160.12 427.70,154.12" fill="#000" stroke="#000" stroke-width="1.1"/>
<polygon points="433.60,172.24 439.10,177.84 433.60,183.44 428.10,177.84" fill="#fff" stroke="#000" stroke-width="1.1"/>
</g><g stroke="none">
<text transform="translate(460.80,16.90) scale(1.1,1)" font-size="15.7" text-anchor="start" stroke="#000" stroke-width="0.3" vector-effect="non-scaling-stroke" stroke-linejoin="round" letter-spacing="-0.35">WT</text>
<text transform="translate(460.80,40.62) scale(1.1,1)" font-size="15.7" text-anchor="start" stroke="#000" stroke-width="0.3" vector-effect="non-scaling-stroke" stroke-linejoin="round" letter-spacing="-0.35">Del6aa</text>
<text transform="translate(460.80,64.34) scale(1.1,1)" font-size="15.7" text-anchor="start" stroke="#000" stroke-width="0.3" vector-effect="non-scaling-stroke" stroke-linejoin="round" letter-spacing="-0.35">R659A</text>
<text transform="translate(460.80,88.06) scale(1.1,1)" font-size="15.7" text-anchor="start" stroke="#000" stroke-width="0.3" vector-effect="non-scaling-stroke" stroke-linejoin="round" letter-spacing="-0.35">R660A</text>
<text transform="translate(460.80,111.78) scale(1.1,1)" font-size="15.7" text-anchor="start" stroke="#000" stroke-width="0.3" vector-effect="non-scaling-stroke" stroke-linejoin="round" letter-spacing="-0.35">Y661A</text>
<text transform="translate(460.80,135.50) scale(1.1,1)" font-size="15.7" text-anchor="start" stroke="#000" stroke-width="0.3" vector-effect="non-scaling-stroke" stroke-linejoin="round" letter-spacing="-0.35">G662A</text>
<text transform="translate(460.80,159.22) scale(1.1,1)" font-size="15.7" text-anchor="start" stroke="#000" stroke-width="0.3" vector-effect="non-scaling-stroke" stroke-linejoin="round" letter-spacing="-0.35">E663A</text>
<text transform="translate(460.80,182.94) scale(1.1,1)" font-size="15.7" text-anchor="start" stroke="#000" stroke-width="0.3" vector-effect="non-scaling-stroke" stroke-linejoin="round" letter-spacing="-0.35">E664A</text>
</g>
<g id="curvesB">
<polyline points="84.50,815.00 84.59,814.39 84.79,813.17 85.05,811.51 85.37,809.51 85.74,807.20 86.16,804.64 86.63,801.86 87.13,798.89 87.68,795.74 88.27,792.44 88.89,789.02 89.54,785.48 90.23,781.85 90.95,778.15 91.70,774.37 92.49,770.55 93.30,766.68 94.14,762.78 95.02,758.86 95.92,754.93 96.84,751.00 97.80,747.07 98.78,743.14 99.78,739.24 100.81,735.36 101.87,731.50 102.95,727.67 104.06,723.88 105.19,720.12 106.34,716.41 107.52,712.74 108.71,709.12 109.94,705.54 111.18,702.01 112.45,698.53 113.74,695.11 115.05,691.73 116.38,688.42 117.73,685.15 119.10,681.94 120.50,678.78 121.91,675.68 123.35,672.63 124.81,669.64 126.28,666.70 127.78,663.82 129.29,660.99 130.83,658.21 132.38,655.48 133.95,652.81 135.54,650.19 137.16,647.61 138.78,645.09 140.43,642.62 142.10,640.19 143.78,637.82 145.49,635.49 147.21,633.20 148.95,630.96 150.70,628.77 152.48,626.62 154.27,624.51 156.08,622.44 157.90,620.41 159.75,618.43 161.61,616.48 163.49,614.57 165.38,612.70 167.29,610.87 169.22,609.07 171.17,607.31 173.13,605.58 175.10,603.89 177.10,602.23 179.11,600.60 181.14,599.00 183.18,597.44 185.24,595.90 187.31,594.39 189.40,592.92 191.51,591.47 193.63,590.05 195.77,588.65 197.92,587.29 200.09,585.94 202.27,584.63 204.47,583.33 206.68,582.07 208.91,580.82 211.16,579.60 213.41,578.40 215.69,577.23 217.98,576.07 220.28,574.94 222.60,573.82 224.93,572.73 227.28,571.65 229.64,570.60 232.02,569.56 234.41,568.55 236.82,567.55 239.24,566.57 241.67,565.60 244.12,564.65 246.58,563.72 249.06,562.81 251.55,561.91 254.06,561.02 256.57,560.15 259.11,559.30 261.65,558.46 264.21,557.63 266.79,556.82 269.38,556.02 271.98,555.23 274.59,554.46 277.22,553.70 279.86,552.95 282.52,552.22 285.19,551.50 287.87,550.78 290.57,550.08 293.28,549.39 296.00,548.72 298.74,548.05 301.48,547.39 304.25,546.74 307.02,546.11 309.81,545.48 312.61,544.86 315.42,544.26 318.25,543.66 321.09,543.07 323.94,542.49 326.81,541.92 329.69,541.35 332.58,540.80 335.48,540.25 338.40,539.71 341.33,539.18 344.27,538.66 347.22,538.14 350.19,537.64 353.17,537.14 356.16,536.64 359.16,536.16 362.18,535.68 365.21,535.21 368.25,534.74 371.30,534.28 374.37,533.83 377.44,533.38 380.53,532.94 383.64,532.51 386.75,532.08 389.88,531.66 393.01,531.24 396.16,530.83 399.33,530.42 402.50,530.02" fill="none" stroke-width="1.08"/>
<polyline points="84.50,815.00 84.59,814.36 84.79,813.08 85.05,811.35 85.37,809.25 85.74,806.85 86.16,804.18 86.63,801.29 87.13,798.19 87.68,794.93 88.27,791.51 88.89,787.97 89.54,784.32 90.23,780.58 90.95,776.76 91.70,772.89 92.49,768.97 93.30,765.01 94.14,761.04 95.02,757.04 95.92,753.05 96.84,749.06 97.80,745.08 98.78,741.11 99.78,737.18 100.81,733.27 101.87,729.39 102.95,725.56 104.06,721.76 105.19,718.01 106.34,714.31 107.52,710.66 108.71,707.06 109.94,703.51 111.18,700.02 112.45,696.59 113.74,693.21 115.05,689.89 116.38,686.63 117.73,683.42 119.10,680.28 120.50,677.19 121.91,674.16 123.35,671.19 124.81,668.28 126.28,665.42 127.78,662.62 129.29,659.88 130.83,657.19 132.38,654.55 133.95,651.97 135.54,649.45 137.16,646.97 138.78,644.54 140.43,642.17 142.10,639.84 143.78,637.57 145.49,635.34 147.21,633.15 148.95,631.01 150.70,628.92 152.48,626.87 154.27,624.86 156.08,622.90 157.90,620.97 159.75,619.09 161.61,617.24 163.49,615.44 165.38,613.67 167.29,611.93 169.22,610.24 171.17,608.57 173.13,606.95 175.10,605.35 177.10,603.79 179.11,602.26 181.14,600.75 183.18,599.28 185.24,597.84 187.31,596.43 189.40,595.05 191.51,593.69 193.63,592.36 195.77,591.06 197.92,589.78 200.09,588.53 202.27,587.30 204.47,586.10 206.68,584.91 208.91,583.75 211.16,582.62 213.41,581.50 215.69,580.41 217.98,579.34 220.28,578.28 222.60,577.25 224.93,576.23 227.28,575.24 229.64,574.26 232.02,573.30 234.41,572.36 236.82,571.44 239.24,570.53 241.67,569.64 244.12,568.76 246.58,567.90 249.06,567.05 251.55,566.22 254.06,565.41 256.57,564.61 259.11,563.82 261.65,563.05 264.21,562.29 266.79,561.54 269.38,560.80 271.98,560.08 274.59,559.37 277.22,558.67 279.86,557.99 282.52,557.31 285.19,556.65 287.87,555.99 290.57,555.35 293.28,554.72 296.00,554.10 298.74,553.48 301.48,552.88 304.25,552.29 307.02,551.71 309.81,551.13 312.61,550.57 315.42,550.01 318.25,549.47 321.09,548.93 323.94,548.40 326.81,547.87 329.69,547.36 332.58,546.85 335.48,546.35 338.40,545.86 341.33,545.38 344.27,544.90 347.22,544.43 350.19,543.97 353.17,543.51 356.16,543.06 359.16,542.62 362.18,542.18 365.21,541.75 368.25,541.33 371.30,540.91 374.37,540.50 377.44,540.09 380.53,539.69 383.64,539.30 386.75,538.91 389.88,538.52 393.01,538.15 396.16,537.77 399.33,537.40 402.50,537.04" fill="none" stroke-width="1.08"/>
<polyline points="84.50,815.00 84.59,814.30 84.79,812.88 85.05,810.96 85.37,808.66 85.74,806.02 86.16,803.10 86.63,799.95 87.13,796.59 87.68,793.07 88.27,789.40 88.89,785.61 89.54,781.72 90.23,777.76 90.95,773.74 91.70,769.69 92.49,765.60 93.30,761.50 94.14,757.40 95.02,753.30 95.92,749.23 96.84,745.18 97.80,741.16 98.78,737.19 99.78,733.26 100.81,729.37 101.87,725.55 102.95,721.78 104.06,718.06 105.19,714.42 106.34,710.83 107.52,707.31 108.71,703.86 109.94,700.48 111.18,697.16 112.45,693.91 113.74,690.73 115.05,687.62 116.38,684.57 117.73,681.59 119.10,678.68 120.50,675.83 121.91,673.05 123.35,670.33 124.81,667.68 126.28,665.08 127.78,662.55 129.29,660.08 130.83,657.66 132.38,655.30 133.95,653.00 135.54,650.75 137.16,648.55 138.78,646.41 140.43,644.31 142.10,642.27 143.78,640.27 145.49,638.32 147.21,636.42 148.95,634.56 150.70,632.75 152.48,630.98 154.27,629.24 156.08,627.55 157.90,625.90 159.75,624.29 161.61,622.71 163.49,621.17 165.38,619.67 167.29,618.20 169.22,616.76 171.17,615.35 173.13,613.98 175.10,612.64 177.10,611.32 179.11,610.04 181.14,608.78 183.18,607.56 185.24,606.35 187.31,605.18 189.40,604.03 191.51,602.90 193.63,601.80 195.77,600.73 197.92,599.67 200.09,598.64 202.27,597.63 204.47,596.64 206.68,595.67 208.91,594.72 211.16,593.79 213.41,592.88 215.69,591.98 217.98,591.11 220.28,590.25 222.60,589.41 224.93,588.59 227.28,587.78 229.64,586.99 232.02,586.21 234.41,585.45 236.82,584.70 239.24,583.97 241.67,583.25 244.12,582.55 246.58,581.86 249.06,581.18 251.55,580.51 254.06,579.86 256.57,579.22 259.11,578.59 261.65,577.97 264.21,577.36 266.79,576.77 269.38,576.18 271.98,575.60 274.59,575.04 277.22,574.48 279.86,573.94 282.52,573.40 285.19,572.88 287.87,572.36 290.57,571.85 293.28,571.35 296.00,570.86 298.74,570.38 301.48,569.90 304.25,569.43 307.02,568.97 309.81,568.52 312.61,568.08 315.42,567.64 318.25,567.21 321.09,566.79 323.94,566.37 326.81,565.96 329.69,565.56 332.58,565.16 335.48,564.77 338.40,564.38 341.33,564.00 344.27,563.63 347.22,563.26 350.19,562.90 353.17,562.55 356.16,562.20 359.16,561.85 362.18,561.51 365.21,561.18 368.25,560.85 371.30,560.52 374.37,560.20 377.44,559.88 380.53,559.57 383.64,559.27 386.75,558.96 389.88,558.67 393.01,558.37 396.16,558.08 399.33,557.80 402.50,557.52" fill="none" stroke-width="1.08"/>
<polyline points="84.50,815.00 84.59,814.41 84.79,813.22 85.05,811.61 85.37,809.66 85.74,807.43 86.16,804.95 86.63,802.26 87.13,799.38 87.68,796.35 88.27,793.18 88.89,789.89 89.54,786.50 90.23,783.03 90.95,779.49 91.70,775.90 92.49,772.26 93.30,768.59 94.14,764.91 95.02,761.21 95.92,757.50 96.84,753.80 97.80,750.12 98.78,746.45 99.78,742.80 100.81,739.18 101.87,735.59 102.95,732.04 104.06,728.53 105.19,725.06 106.34,721.64 107.52,718.26 108.71,714.93 109.94,711.65 111.18,708.43 112.45,705.25 113.74,702.13 115.05,699.06 116.38,696.05 117.73,693.09 119.10,690.19 120.50,687.34 121.91,684.54 123.35,681.80 124.81,679.11 126.28,676.47 127.78,673.89 129.29,671.36 130.83,668.88 132.38,666.45 133.95,664.07 135.54,661.74 137.16,659.45 138.78,657.22 140.43,655.03 142.10,652.89 143.78,650.79 145.49,648.73 147.21,646.72 148.95,644.75 150.70,642.82 152.48,640.94 154.27,639.09 156.08,637.28 157.90,635.50 159.75,633.77 161.61,632.07 163.49,630.41 165.38,628.78 167.29,627.18 169.22,625.62 171.17,624.09 173.13,622.59 175.10,621.12 177.10,619.69 179.11,618.28 181.14,616.90 183.18,615.55 185.24,614.22 187.31,612.92 189.40,611.65 191.51,610.40 193.63,609.18 195.77,607.98 197.92,606.81 200.09,605.65 202.27,604.53 204.47,603.42 206.68,602.33 208.91,601.27 211.16,600.22 213.41,599.20 215.69,598.19 217.98,597.21 220.28,596.24 222.60,595.29 224.93,594.36 227.28,593.44 229.64,592.54 232.02,591.66 234.41,590.80 236.82,589.95 239.24,589.11 241.67,588.30 244.12,587.49 246.58,586.70 249.06,585.93 251.55,585.16 254.06,584.41 256.57,583.68 259.11,582.96 261.65,582.24 264.21,581.55 266.79,580.86 269.38,580.19 271.98,579.52 274.59,578.87 277.22,578.23 279.86,577.60 282.52,576.98 285.19,576.37 287.87,575.77 290.57,575.18 293.28,574.60 296.00,574.03 298.74,573.47 301.48,572.92 304.25,572.37 307.02,571.84 309.81,571.31 312.61,570.79 315.42,570.28 318.25,569.78 321.09,569.29 323.94,568.80 326.81,568.32 329.69,567.85 332.58,567.38 335.48,566.93 338.40,566.47 341.33,566.03 344.27,565.59 347.22,565.16 350.19,564.74 353.17,564.32 356.16,563.91 359.16,563.50 362.18,563.10 365.21,562.71 368.25,562.32 371.30,561.93 374.37,561.56 377.44,561.18 380.53,560.82 383.64,560.45 386.75,560.10 389.88,559.74 393.01,559.40 396.16,559.06 399.33,558.72 402.50,558.38" fill="none" stroke-width="1.08"/>
<polyline points="84.50,815.00 84.59,814.38 84.79,813.13 85.05,811.45 85.37,809.41 85.74,807.09 86.16,804.52 86.63,801.73 87.13,798.77 87.68,795.66 88.27,792.42 88.89,789.07 89.54,785.64 90.23,782.14 90.95,778.58 91.70,774.99 92.49,771.37 93.30,767.74 94.14,764.10 95.02,760.48 95.92,756.86 96.84,753.27 97.80,749.70 98.78,746.17 99.78,742.68 100.81,739.22 101.87,735.82 102.95,732.46 104.06,729.16 105.19,725.91 106.34,722.72 107.52,719.58 108.71,716.50 109.94,713.48 111.18,710.52 112.45,707.62 113.74,704.78 115.05,702.00 116.38,699.28 117.73,696.62 119.10,694.02 120.50,691.47 121.91,688.98 123.35,686.55 124.81,684.17 126.28,681.85 127.78,679.58 129.29,677.36 130.83,675.19 132.38,673.08 133.95,671.01 135.54,668.99 137.16,667.02 138.78,665.10 140.43,663.22 142.10,661.38 143.78,659.59 145.49,657.84 147.21,656.13 148.95,654.46 150.70,652.83 152.48,651.24 154.27,649.68 156.08,648.16 157.90,646.67 159.75,645.22 161.61,643.80 163.49,642.42 165.38,641.06 167.29,639.74 169.22,638.44 171.17,637.18 173.13,635.94 175.10,634.73 177.10,633.55 179.11,632.39 181.14,631.26 183.18,630.15 185.24,629.07 187.31,628.01 189.40,626.97 191.51,625.95 193.63,624.96 195.77,623.99 197.92,623.04 200.09,622.10 202.27,621.19 204.47,620.30 206.68,619.42 208.91,618.57 211.16,617.73 213.41,616.90 215.69,616.10 217.98,615.31 220.28,614.53 222.60,613.77 224.93,613.03 227.28,612.30 229.64,611.58 232.02,610.88 234.41,610.19 236.82,609.52 239.24,608.86 241.67,608.21 244.12,607.57 246.58,606.95 249.06,606.33 251.55,605.73 254.06,605.14 256.57,604.56 259.11,603.99 261.65,603.43 264.21,602.88 266.79,602.34 269.38,601.81 271.98,601.29 274.59,600.78 277.22,600.28 279.86,599.78 282.52,599.30 285.19,598.82 287.87,598.35 290.57,597.89 293.28,597.44 296.00,596.99 298.74,596.56 301.48,596.13 304.25,595.70 307.02,595.29 309.81,594.88 312.61,594.48 315.42,594.08 318.25,593.69 321.09,593.31 323.94,592.93 326.81,592.56 329.69,592.19 332.58,591.83 335.48,591.48 338.40,591.13 341.33,590.79 344.27,590.45 347.22,590.12 350.19,589.79 353.17,589.47 356.16,589.15 359.16,588.84 362.18,588.53 365.21,588.22 368.25,587.92 371.30,587.63 374.37,587.34 377.44,587.05 380.53,586.77 383.64,586.49 386.75,586.22 389.88,585.95 393.01,585.68 396.16,585.42 399.33,585.16 402.50,584.91" fill="none" stroke-width="1.08"/>
<polyline points="84.50,815.00 84.59,814.41 84.79,813.21 85.05,811.60 85.37,809.65 85.74,807.42 86.16,804.96 86.63,802.29 87.13,799.46 87.68,796.47 88.27,793.36 88.89,790.16 89.54,786.87 90.23,783.51 90.95,780.10 91.70,776.65 92.49,773.18 93.30,769.70 94.14,766.21 95.02,762.73 95.92,759.26 96.84,755.81 97.80,752.39 98.78,748.99 99.78,745.64 100.81,742.33 101.87,739.05 102.95,735.83 104.06,732.66 105.19,729.54 106.34,726.47 107.52,723.45 108.71,720.49 109.94,717.59 111.18,714.74 112.45,711.96 113.74,709.22 115.05,706.55 116.38,703.93 117.73,701.37 119.10,698.86 120.50,696.41 121.91,694.02 123.35,691.68 124.81,689.39 126.28,687.15 127.78,684.97 129.29,682.83 130.83,680.75 132.38,678.71 133.95,676.72 135.54,674.78 137.16,672.88 138.78,671.03 140.43,669.21 142.10,667.45 143.78,665.72 145.49,664.03 147.21,662.38 148.95,660.78 150.70,659.20 152.48,657.67 154.27,656.17 156.08,654.70 157.90,653.27 159.75,651.87 161.61,650.50 163.49,649.17 165.38,647.86 167.29,646.58 169.22,645.33 171.17,644.11 173.13,642.92 175.10,641.75 177.10,640.61 179.11,639.50 181.14,638.40 183.18,637.34 185.24,636.29 187.31,635.27 189.40,634.27 191.51,633.29 193.63,632.33 195.77,631.39 197.92,630.47 200.09,629.58 202.27,628.69 204.47,627.83 206.68,626.99 208.91,626.16 211.16,625.35 213.41,624.56 215.69,623.78 217.98,623.01 220.28,622.27 222.60,621.53 224.93,620.82 227.28,620.11 229.64,619.42 232.02,618.74 234.41,618.08 236.82,617.43 239.24,616.79 241.67,616.16 244.12,615.55 246.58,614.94 249.06,614.35 251.55,613.77 254.06,613.20 256.57,612.64 259.11,612.09 261.65,611.55 264.21,611.02 266.79,610.50 269.38,609.99 271.98,609.48 274.59,608.99 277.22,608.50 279.86,608.03 282.52,607.56 285.19,607.10 287.87,606.65 290.57,606.20 293.28,605.76 296.00,605.33 298.74,604.91 301.48,604.50 304.25,604.09 307.02,603.69 309.81,603.29 312.61,602.90 315.42,602.52 318.25,602.14 321.09,601.77 323.94,601.41 326.81,601.05 329.69,600.70 332.58,600.35 335.48,600.01 338.40,599.67 341.33,599.34 344.27,599.01 347.22,598.69 350.19,598.37 353.17,598.06 356.16,597.76 359.16,597.45 362.18,597.16 365.21,596.86 368.25,596.57 371.30,596.29 374.37,596.01 377.44,595.73 380.53,595.46 383.64,595.19 386.75,594.92 389.88,594.66 393.01,594.41 396.16,594.15 399.33,593.90 402.50,593.66" fill="none" stroke-width="1.08"/>
<polyline points="84.50,815.00 84.59,814.28 84.79,812.85 85.05,810.92 85.37,808.60 85.74,805.97 86.16,803.08 86.63,799.98 87.13,796.71 87.68,793.30 88.27,789.78 88.89,786.18 89.54,782.53 90.23,778.84 90.95,775.13 91.70,771.42 92.49,767.72 93.30,764.05 94.14,760.40 95.02,756.80 95.92,753.26 96.84,749.76 97.80,746.33 98.78,742.96 99.78,739.67 100.81,736.44 101.87,733.28 102.95,730.20 104.06,727.19 105.19,724.26 106.34,721.40 107.52,718.62 108.71,715.91 109.94,713.28 111.18,710.71 112.45,708.22 113.74,705.79 115.05,703.44 116.38,701.15 117.73,698.92 119.10,696.76 120.50,694.66 121.91,692.62 123.35,690.64 124.81,688.72 126.28,686.85 127.78,685.03 129.29,683.27 130.83,681.55 132.38,679.89 133.95,678.27 135.54,676.70 137.16,675.17 138.78,673.69 140.43,672.24 142.10,670.84 143.78,669.48 145.49,668.15 147.21,666.86 148.95,665.60 150.70,664.38 152.48,663.19 154.27,662.04 156.08,660.91 157.90,659.82 159.75,658.75 161.61,657.71 163.49,656.70 165.38,655.71 167.29,654.75 169.22,653.82 171.17,652.90 173.13,652.01 175.10,651.15 177.10,650.30 179.11,649.48 181.14,648.67 183.18,647.89 185.24,647.12 187.31,646.38 189.40,645.65 191.51,644.93 193.63,644.24 195.77,643.56 197.92,642.90 200.09,642.25 202.27,641.61 204.47,641.00 206.68,640.39 208.91,639.80 211.16,639.22 213.41,638.66 215.69,638.10 217.98,637.56 220.28,637.03 222.60,636.51 224.93,636.01 227.28,635.51 229.64,635.03 232.02,634.55 234.41,634.09 236.82,633.63 239.24,633.18 241.67,632.75 244.12,632.32 246.58,631.90 249.06,631.49 251.55,631.08 254.06,630.69 256.57,630.30 259.11,629.92 261.65,629.55 264.21,629.18 266.79,628.83 269.38,628.47 271.98,628.13 274.59,627.79 277.22,627.46 279.86,627.13 282.52,626.81 285.19,626.50 287.87,626.19 290.57,625.89 293.28,625.59 296.00,625.30 298.74,625.01 301.48,624.73 304.25,624.45 307.02,624.18 309.81,623.91 312.61,623.65 315.42,623.39 318.25,623.14 321.09,622.89 323.94,622.64 326.81,622.40 329.69,622.17 332.58,621.93 335.48,621.70 338.40,621.48 341.33,621.26 344.27,621.04 347.22,620.82 350.19,620.61 353.17,620.40 356.16,620.20 359.16,620.00 362.18,619.80 365.21,619.60 368.25,619.41 371.30,619.22 374.37,619.03 377.44,618.85 380.53,618.67 383.64,618.49 386.75,618.32 389.88,618.14 393.01,617.97 396.16,617.81 399.33,617.64 402.50,617.48" fill="none" stroke-width="1.08"/>
<polyline points="84.50,815.00 84.59,814.48 84.79,813.42 85.05,812.00 85.37,810.28 85.74,808.31 86.16,806.14 86.63,803.78 87.13,801.27 87.68,798.63 88.27,795.88 88.89,793.04 89.54,790.12 90.23,787.14 90.95,784.12 91.70,781.05 92.49,777.97 93.30,774.87 94.14,771.76 95.02,768.66 95.92,765.57 96.84,762.49 97.80,759.43 98.78,756.40 99.78,753.40 100.81,750.44 101.87,747.51 102.95,744.62 104.06,741.77 105.19,738.97 106.34,736.22 107.52,733.51 108.71,730.85 109.94,728.24 111.18,725.68 112.45,723.16 113.74,720.70 115.05,718.29 116.38,715.93 117.73,713.62 119.10,711.36 120.50,709.14 121.91,706.98 123.35,704.86 124.81,702.79 126.28,700.76 127.78,698.79 129.29,696.85 130.83,694.96 132.38,693.11 133.95,691.31 135.54,689.54 137.16,687.82 138.78,686.14 140.43,684.49 142.10,682.88 143.78,681.31 145.49,679.78 147.21,678.28 148.95,676.82 150.70,675.38 152.48,673.98 154.27,672.62 156.08,671.28 157.90,669.98 159.75,668.70 161.61,667.45 163.49,666.23 165.38,665.04 167.29,663.87 169.22,662.73 171.17,661.62 173.13,660.53 175.10,659.46 177.10,658.42 179.11,657.40 181.14,656.40 183.18,655.42 185.24,654.47 187.31,653.53 189.40,652.61 191.51,651.72 193.63,650.84 195.77,649.98 197.92,649.14 200.09,648.31 202.27,647.51 204.47,646.72 206.68,645.94 208.91,645.18 211.16,644.44 213.41,643.71 215.69,643.00 217.98,642.30 220.28,641.61 222.60,640.94 224.93,640.28 227.28,639.63 229.64,639.00 232.02,638.38 234.41,637.77 236.82,637.17 239.24,636.58 241.67,636.01 244.12,635.44 246.58,634.88 249.06,634.34 251.55,633.81 254.06,633.28 256.57,632.77 259.11,632.26 261.65,631.76 264.21,631.27 266.79,630.80 269.38,630.32 271.98,629.86 274.59,629.41 277.22,628.96 279.86,628.52 282.52,628.09 285.19,627.67 287.87,627.25 290.57,626.84 293.28,626.44 296.00,626.04 298.74,625.65 301.48,625.27 304.25,624.89 307.02,624.52 309.81,624.16 312.61,623.80 315.42,623.45 318.25,623.10 321.09,622.76 323.94,622.42 326.81,622.09 329.69,621.77 332.58,621.45 335.48,621.13 338.40,620.82 341.33,620.52 344.27,620.21 347.22,619.92 350.19,619.63 353.17,619.34 356.16,619.05 359.16,618.78 362.18,618.50 365.21,618.23 368.25,617.96 371.30,617.70 374.37,617.44 377.44,617.19 380.53,616.93 383.64,616.69 386.75,616.44 389.88,616.20 393.01,615.96 396.16,615.73 399.33,615.50 402.50,615.27" fill="none" stroke-width="1.08"/>
</g>
<g id="dataB">
<line x1="86.98" y1="794.00" x2="86.98" y2="802.00" stroke-width="1.0"/>
<line x1="82.73" y1="794.00" x2="91.23" y2="794.00" stroke-width="1.0"/>
<line x1="82.73" y1="802.00" x2="91.23" y2="802.00" stroke-width="1.0"/>
<line x1="89.47" y1="777.00" x2="89.47" y2="787.00" stroke-width="1.0"/>
<line x1="85.22" y1="777.00" x2="93.72" y2="777.00" stroke-width="1.0"/>
<line x1="85.22" y1="787.00" x2="93.72" y2="787.00" stroke-width="1.0"/>
<line x1="94.44" y1="756.00" x2="94.44" y2="768.00" stroke-width="1.0"/>
<line x1="90.19" y1="756.00" x2="98.69" y2="756.00" stroke-width="1.0"/>
<line x1="90.19" y1="768.00" x2="98.69" y2="768.00" stroke-width="1.0"/>
<line x1="104.38" y1="719.50" x2="104.38" y2="733.50" stroke-width="1.0"/>
<line x1="100.12" y1="719.50" x2="108.62" y2="719.50" stroke-width="1.0"/>
<line x1="100.12" y1="733.50" x2="108.62" y2="733.50" stroke-width="1.0"/>
<line x1="124.25" y1="664.00" x2="124.25" y2="680.00" stroke-width="1.0"/>
<line x1="120.00" y1="664.00" x2="128.50" y2="664.00" stroke-width="1.0"/>
<line x1="120.00" y1="680.00" x2="128.50" y2="680.00" stroke-width="1.0"/>
<line x1="164.00" y1="585.60" x2="164.00" y2="598.60" stroke-width="1.0"/>
<line x1="159.75" y1="585.60" x2="168.25" y2="585.60" stroke-width="1.0"/>
<line x1="159.75" y1="598.60" x2="168.25" y2="598.60" stroke-width="1.0"/>
<line x1="243.50" y1="553.30" x2="243.50" y2="571.10" stroke-width="1.0"/>
<line x1="239.25" y1="553.30" x2="247.75" y2="553.30" stroke-width="1.0"/>
<line x1="239.25" y1="571.10" x2="247.75" y2="571.10" stroke-width="1.0"/>
<line x1="402.50" y1="534.60" x2="402.50" y2="543.80" stroke-width="1.0"/>
<line x1="398.25" y1="534.60" x2="406.75" y2="534.60" stroke-width="1.0"/>
<line x1="398.25" y1="543.80" x2="406.75" y2="543.80" stroke-width="1.0"/>
<line x1="86.98" y1="797.00" x2="86.98" y2="803.00" stroke-width="1.0"/>
<line x1="82.73" y1="797.00" x2="91.23" y2="797.00" stroke-width="1.0"/>
<line x1="82.73" y1="803.00" x2="91.23" y2="803.00" stroke-width="1.0"/>
<line x1="89.47" y1="786.00" x2="89.47" y2="794.00" stroke-width="1.0"/>
<line x1="85.22" y1="786.00" x2="93.72" y2="786.00" stroke-width="1.0"/>
<line x1="85.22" y1="794.00" x2="93.72" y2="794.00" stroke-width="1.0"/>
<line x1="94.44" y1="763.00" x2="94.44" y2="773.00" stroke-width="1.0"/>
<line x1="90.19" y1="763.00" x2="98.69" y2="763.00" stroke-width="1.0"/>
<line x1="90.19" y1="773.00" x2="98.69" y2="773.00" stroke-width="1.0"/>
<line x1="104.38" y1="721.00" x2="104.38" y2="733.00" stroke-width="1.0"/>
<line x1="100.12" y1="721.00" x2="108.62" y2="721.00" stroke-width="1.0"/>
<line x1="100.12" y1="733.00" x2="108.62" y2="733.00" stroke-width="1.0"/>
<line x1="124.25" y1="678.00" x2="124.25" y2="690.00" stroke-width="1.0"/>
<line x1="120.00" y1="678.00" x2="128.50" y2="678.00" stroke-width="1.0"/>
<line x1="120.00" y1="690.00" x2="128.50" y2="690.00" stroke-width="1.0"/>
<line x1="164.00" y1="637.60" x2="164.00" y2="643.60" stroke-width="1.0"/>
<line x1="159.75" y1="637.60" x2="168.25" y2="637.60" stroke-width="1.0"/>
<line x1="159.75" y1="643.60" x2="168.25" y2="643.60" stroke-width="1.0"/>
<line x1="243.50" y1="597.50" x2="243.50" y2="622.90" stroke-width="1.0"/>
<line x1="239.25" y1="597.50" x2="247.75" y2="597.50" stroke-width="1.0"/>
<line x1="239.25" y1="622.90" x2="247.75" y2="622.90" stroke-width="1.0"/>
<line x1="402.50" y1="600.30" x2="402.50" y2="606.30" stroke-width="1.0"/>
<line x1="398.25" y1="600.30" x2="406.75" y2="600.30" stroke-width="1.0"/>
<line x1="398.25" y1="606.30" x2="406.75" y2="606.30" stroke-width="1.0"/>
<line x1="86.98" y1="787.00" x2="86.98" y2="797.00" stroke-width="1.0"/>
<line x1="82.73" y1="787.00" x2="91.23" y2="787.00" stroke-width="1.0"/>
<line x1="82.73" y1="797.00" x2="91.23" y2="797.00" stroke-width="1.0"/>
<line x1="89.47" y1="765.80" x2="89.47" y2="777.80" stroke-width="1.0"/>
<line x1="85.22" y1="765.80" x2="93.72" y2="765.80" stroke-width="1.0"/>
<line x1="85.22" y1="777.80" x2="93.72" y2="777.80" stroke-width="1.0"/>
<line x1="94.44" y1="751.00" x2="94.44" y2="765.00" stroke-width="1.0"/>
<line x1="90.19" y1="751.00" x2="98.69" y2="751.00" stroke-width="1.0"/>
<line x1="90.19" y1="765.00" x2="98.69" y2="765.00" stroke-width="1.0"/>
<line x1="104.38" y1="732.00" x2="104.38" y2="744.00" stroke-width="1.0"/>
<line x1="100.12" y1="732.00" x2="108.62" y2="732.00" stroke-width="1.0"/>
<line x1="100.12" y1="744.00" x2="108.62" y2="744.00" stroke-width="1.0"/>
<line x1="124.25" y1="685.00" x2="124.25" y2="699.00" stroke-width="1.0"/>
<line x1="120.00" y1="685.00" x2="128.50" y2="685.00" stroke-width="1.0"/>
<line x1="120.00" y1="699.00" x2="128.50" y2="699.00" stroke-width="1.0"/>
<line x1="164.00" y1="655.00" x2="164.00" y2="674.00" stroke-width="1.0"/>
<line x1="159.75" y1="655.00" x2="168.25" y2="655.00" stroke-width="1.0"/>
<line x1="159.75" y1="674.00" x2="168.25" y2="674.00" stroke-width="1.0"/>
<line x1="243.50" y1="622.30" x2="243.50" y2="638.30" stroke-width="1.0"/>
<line x1="239.25" y1="622.30" x2="247.75" y2="622.30" stroke-width="1.0"/>
<line x1="239.25" y1="638.30" x2="247.75" y2="638.30" stroke-width="1.0"/>
<line x1="402.50" y1="610.70" x2="402.50" y2="624.30" stroke-width="1.0"/>
<line x1="398.25" y1="610.70" x2="406.75" y2="610.70" stroke-width="1.0"/>
<line x1="398.25" y1="624.30" x2="406.75" y2="624.30" stroke-width="1.0"/>
<line x1="86.98" y1="796.00" x2="86.98" y2="802.00" stroke-width="1.0"/>
<line x1="82.73" y1="796.00" x2="91.23" y2="796.00" stroke-width="1.0"/>
<line x1="82.73" y1="802.00" x2="91.23" y2="802.00" stroke-width="1.0"/>
<line x1="89.47" y1="782.00" x2="89.47" y2="790.00" stroke-width="1.0"/>
<line x1="85.22" y1="782.00" x2="93.72" y2="782.00" stroke-width="1.0"/>
<line x1="85.22" y1="790.00" x2="93.72" y2="790.00" stroke-width="1.0"/>
<line x1="94.44" y1="760.00" x2="94.44" y2="770.00" stroke-width="1.0"/>
<line x1="90.19" y1="760.00" x2="98.69" y2="760.00" stroke-width="1.0"/>
<line x1="90.19" y1="770.00" x2="98.69" y2="770.00" stroke-width="1.0"/>
<line x1="104.38" y1="726.00" x2="104.38" y2="738.00" stroke-width="1.0"/>
<line x1="100.12" y1="726.00" x2="108.62" y2="726.00" stroke-width="1.0"/>
<line x1="100.12" y1="738.00" x2="108.62" y2="738.00" stroke-width="1.0"/>
<line x1="124.25" y1="662.70" x2="124.25" y2="674.70" stroke-width="1.0"/>
<line x1="120.00" y1="662.70" x2="128.50" y2="662.70" stroke-width="1.0"/>
<line x1="120.00" y1="674.70" x2="128.50" y2="674.70" stroke-width="1.0"/>
<line x1="164.00" y1="602.10" x2="164.00" y2="606.10" stroke-width="1.0"/>
<line x1="159.75" y1="602.10" x2="168.25" y2="602.10" stroke-width="1.0"/>
<line x1="159.75" y1="606.10" x2="168.25" y2="606.10" stroke-width="1.0"/>
<line x1="243.50" y1="538.70" x2="243.50" y2="581.10" stroke-width="1.0"/>
<line x1="239.25" y1="538.70" x2="247.75" y2="538.70" stroke-width="1.0"/>
<line x1="239.25" y1="581.10" x2="247.75" y2="581.10" stroke-width="1.0"/>
<line x1="402.50" y1="547.40" x2="402.50" y2="558.60" stroke-width="1.0"/>
<line x1="398.25" y1="547.40" x2="406.75" y2="547.40" stroke-width="1.0"/>
<line x1="398.25" y1="558.60" x2="406.75" y2="558.60" stroke-width="1.0"/>
<line x1="86.98" y1="793.00" x2="86.98" y2="801.00" stroke-width="1.0"/>
<line x1="82.73" y1="793.00" x2="91.23" y2="793.00" stroke-width="1.0"/>
<line x1="82.73" y1="801.00" x2="91.23" y2="801.00" stroke-width="1.0"/>
<line x1="89.47" y1="779.00" x2="89.47" y2="789.00" stroke-width="1.0"/>
<line x1="85.22" y1="779.00" x2="93.72" y2="779.00" stroke-width="1.0"/>
<line x1="85.22" y1="789.00" x2="93.72" y2="789.00" stroke-width="1.0"/>
<line x1="94.44" y1="760.00" x2="94.44" y2="772.00" stroke-width="1.0"/>
<line x1="90.19" y1="760.00" x2="98.69" y2="760.00" stroke-width="1.0"/>
<line x1="90.19" y1="772.00" x2="98.69" y2="772.00" stroke-width="1.0"/>
<line x1="104.38" y1="724.00" x2="104.38" y2="736.00" stroke-width="1.0"/>
<line x1="100.12" y1="724.00" x2="108.62" y2="724.00" stroke-width="1.0"/>
<line x1="100.12" y1="736.00" x2="108.62" y2="736.00" stroke-width="1.0"/>
<line x1="124.25" y1="670.00" x2="124.25" y2="682.00" stroke-width="1.0"/>
<line x1="120.00" y1="670.00" x2="128.50" y2="670.00" stroke-width="1.0"/>
<line x1="120.00" y1="682.00" x2="128.50" y2="682.00" stroke-width="1.0"/>
<line x1="164.00" y1="638.00" x2="164.00" y2="644.00" stroke-width="1.0"/>
<line x1="159.75" y1="638.00" x2="168.25" y2="638.00" stroke-width="1.0"/>
<line x1="159.75" y1="644.00" x2="168.25" y2="644.00" stroke-width="1.0"/>
<line x1="243.50" y1="593.00" x2="243.50" y2="600.00" stroke-width="1.0"/>
<line x1="239.25" y1="593.00" x2="247.75" y2="593.00" stroke-width="1.0"/>
<line x1="239.25" y1="600.00" x2="247.75" y2="600.00" stroke-width="1.0"/>
<line x1="402.50" y1="515.70" x2="402.50" y2="578.70" stroke-width="1.0"/>
<line x1="398.25" y1="515.70" x2="406.75" y2="515.70" stroke-width="1.0"/>
<line x1="398.25" y1="578.70" x2="406.75" y2="578.70" stroke-width="1.0"/>
<line x1="86.98" y1="788.00" x2="86.98" y2="800.00" stroke-width="1.0"/>
<line x1="82.73" y1="788.00" x2="91.23" y2="788.00" stroke-width="1.0"/>
<line x1="82.73" y1="800.00" x2="91.23" y2="800.00" stroke-width="1.0"/>
<line x1="89.47" y1="750.50" x2="89.47" y2="808.50" stroke-width="1.0"/>
<line x1="85.22" y1="750.50" x2="93.72" y2="750.50" stroke-width="1.0"/>
<line x1="85.22" y1="808.50" x2="93.72" y2="808.50" stroke-width="1.0"/>
<line x1="94.44" y1="731.00" x2="94.44" y2="760.40" stroke-width="1.0"/>
<line x1="90.19" y1="731.00" x2="98.69" y2="731.00" stroke-width="1.0"/>
<line x1="90.19" y1="760.40" x2="98.69" y2="760.40" stroke-width="1.0"/>
<line x1="104.38" y1="705.00" x2="104.38" y2="727.60" stroke-width="1.0"/>
<line x1="100.12" y1="705.00" x2="108.62" y2="705.00" stroke-width="1.0"/>
<line x1="100.12" y1="727.60" x2="108.62" y2="727.60" stroke-width="1.0"/>
<line x1="124.25" y1="652.80" x2="124.25" y2="672.40" stroke-width="1.0"/>
<line x1="120.00" y1="652.80" x2="128.50" y2="652.80" stroke-width="1.0"/>
<line x1="120.00" y1="672.40" x2="128.50" y2="672.40" stroke-width="1.0"/>
<line x1="164.00" y1="607.90" x2="164.00" y2="647.90" stroke-width="1.0"/>
<line x1="159.75" y1="607.90" x2="168.25" y2="607.90" stroke-width="1.0"/>
<line x1="159.75" y1="647.90" x2="168.25" y2="647.90" stroke-width="1.0"/>
<line x1="243.50" y1="583.70" x2="243.50" y2="589.70" stroke-width="1.0"/>
<line x1="239.25" y1="583.70" x2="247.75" y2="583.70" stroke-width="1.0"/>
<line x1="239.25" y1="589.70" x2="247.75" y2="589.70" stroke-width="1.0"/>
<line x1="402.50" y1="547.30" x2="402.50" y2="557.30" stroke-width="1.0"/>
<line x1="398.25" y1="547.30" x2="406.75" y2="547.30" stroke-width="1.0"/>
<line x1="398.25" y1="557.30" x2="406.75" y2="557.30" stroke-width="1.0"/>
<line x1="86.98" y1="797.00" x2="86.98" y2="805.00" stroke-width="1.0"/>
<line x1="82.73" y1="797.00" x2="91.23" y2="797.00" stroke-width="1.0"/>
<line x1="82.73" y1="805.00" x2="91.23" y2="805.00" stroke-width="1.0"/>
<line x1="89.47" y1="782.60" x2="89.47" y2="792.60" stroke-width="1.0"/>
<line x1="85.22" y1="782.60" x2="93.72" y2="782.60" stroke-width="1.0"/>
<line x1="85.22" y1="792.60" x2="93.72" y2="792.60" stroke-width="1.0"/>
<line x1="94.44" y1="766.00" x2="94.44" y2="778.00" stroke-width="1.0"/>
<line x1="90.19" y1="766.00" x2="98.69" y2="766.00" stroke-width="1.0"/>
<line x1="90.19" y1="778.00" x2="98.69" y2="778.00" stroke-width="1.0"/>
<line x1="104.38" y1="736.00" x2="104.38" y2="751.00" stroke-width="1.0"/>
<line x1="100.12" y1="736.00" x2="108.62" y2="736.00" stroke-width="1.0"/>
<line x1="100.12" y1="751.00" x2="108.62" y2="751.00" stroke-width="1.0"/>
<line x1="124.25" y1="688.00" x2="124.25" y2="703.80" stroke-width="1.0"/>
<line x1="120.00" y1="688.00" x2="128.50" y2="688.00" stroke-width="1.0"/>
<line x1="120.00" y1="703.80" x2="128.50" y2="703.80" stroke-width="1.0"/>
<line x1="164.00" y1="652.50" x2="164.00" y2="680.50" stroke-width="1.0"/>
<line x1="159.75" y1="652.50" x2="168.25" y2="652.50" stroke-width="1.0"/>
<line x1="159.75" y1="680.50" x2="168.25" y2="680.50" stroke-width="1.0"/>
<line x1="243.50" y1="623.80" x2="243.50" y2="642.20" stroke-width="1.0"/>
<line x1="239.25" y1="623.80" x2="247.75" y2="623.80" stroke-width="1.0"/>
<line x1="239.25" y1="642.20" x2="247.75" y2="642.20" stroke-width="1.0"/>
<line x1="402.50" y1="608.90" x2="402.50" y2="631.10" stroke-width="1.0"/>
<line x1="398.25" y1="608.90" x2="406.75" y2="608.90" stroke-width="1.0"/>
<line x1="398.25" y1="631.10" x2="406.75" y2="631.10" stroke-width="1.0"/>
<line x1="86.98" y1="800.00" x2="86.98" y2="806.00" stroke-width="1.0"/>
<line x1="82.73" y1="800.00" x2="91.23" y2="800.00" stroke-width="1.0"/>
<line x1="82.73" y1="806.00" x2="91.23" y2="806.00" stroke-width="1.0"/>
<line x1="89.47" y1="790.40" x2="89.47" y2="798.40" stroke-width="1.0"/>
<line x1="85.22" y1="790.40" x2="93.72" y2="790.40" stroke-width="1.0"/>
<line x1="85.22" y1="798.40" x2="93.72" y2="798.40" stroke-width="1.0"/>
<line x1="94.44" y1="771.30" x2="94.44" y2="781.30" stroke-width="1.0"/>
<line x1="90.19" y1="771.30" x2="98.69" y2="771.30" stroke-width="1.0"/>
<line x1="90.19" y1="781.30" x2="98.69" y2="781.30" stroke-width="1.0"/>
<line x1="104.38" y1="729.00" x2="104.38" y2="741.00" stroke-width="1.0"/>
<line x1="100.12" y1="729.00" x2="108.62" y2="729.00" stroke-width="1.0"/>
<line x1="100.12" y1="741.00" x2="108.62" y2="741.00" stroke-width="1.0"/>
<line x1="124.25" y1="676.30" x2="124.25" y2="688.30" stroke-width="1.0"/>
<line x1="120.00" y1="676.30" x2="128.50" y2="676.30" stroke-width="1.0"/>
<line x1="120.00" y1="688.30" x2="128.50" y2="688.30" stroke-width="1.0"/>
<line x1="164.00" y1="632.90" x2="164.00" y2="638.90" stroke-width="1.0"/>
<line x1="159.75" y1="632.90" x2="168.25" y2="632.90" stroke-width="1.0"/>
<line x1="159.75" y1="638.90" x2="168.25" y2="638.90" stroke-width="1.0"/>
<line x1="243.50" y1="592.70" x2="243.50" y2="620.30" stroke-width="1.0"/>
<line x1="239.25" y1="592.70" x2="247.75" y2="592.70" stroke-width="1.0"/>
<line x1="239.25" y1="620.30" x2="247.75" y2="620.30" stroke-width="1.0"/>
<line x1="402.50" y1="579.10" x2="402.50" y2="601.30" stroke-width="1.0"/>
<line x1="398.25" y1="579.10" x2="406.75" y2="579.10" stroke-width="1.0"/>
<line x1="398.25" y1="601.30" x2="406.75" y2="601.30" stroke-width="1.0"/>
<ellipse cx="84.50" cy="814.60" rx="3.60" ry="4.00" fill="#000" stroke="#000" stroke-width="1.0"/>
<ellipse cx="86.98" cy="798.00" rx="3.60" ry="4.00" fill="#000" stroke="#000" stroke-width="1.0"/>
<ellipse cx="89.47" cy="782.00" rx="3.60" ry="4.00" fill="#000" stroke="#000" stroke-width="1.0"/>
<ellipse cx="94.44" cy="762.00" rx="3.60" ry="4.00" fill="#000" stroke="#000" stroke-width="1.0"/>
<ellipse cx="104.38" cy="726.50" rx="3.60" ry="4.00" fill="#000" stroke="#000" stroke-width="1.0"/>
<ellipse cx="124.25" cy="672.00" rx="3.60" ry="4.00" fill="#000" stroke="#000" stroke-width="1.0"/>
<ellipse cx="164.00" cy="592.10" rx="3.60" ry="4.00" fill="#000" stroke="#000" stroke-width="1.0"/>
<ellipse cx="243.50" cy="562.20" rx="3.60" ry="4.00" fill="#000" stroke="#000" stroke-width="1.0"/>
<ellipse cx="402.50" cy="539.20" rx="3.60" ry="4.00" fill="#000" stroke="#000" stroke-width="1.0"/>
<ellipse cx="84.50" cy="814.60" rx="3.20" ry="3.50" fill="#fff" stroke="#000" stroke-width="1.0"/>
<ellipse cx="86.98" cy="800.00" rx="3.20" ry="3.50" fill="#fff" stroke="#000" stroke-width="1.0"/>
<ellipse cx="89.47" cy="790.00" rx="3.20" ry="3.50" fill="#fff" stroke="#000" stroke-width="1.0"/>
<ellipse cx="94.44" cy="768.00" rx="3.20" ry="3.50" fill="#fff" stroke="#000" stroke-width="1.0"/>
<ellipse cx="104.38" cy="727.00" rx="3.20" ry="3.50" fill="#fff" stroke="#000" stroke-width="1.0"/>
<ellipse cx="124.25" cy="684.00" rx="3.20" ry="3.50" fill="#fff" stroke="#000" stroke-width="1.0"/>
<ellipse cx="164.00" cy="640.60" rx="3.20" ry="3.50" fill="#fff" stroke="#000" stroke-width="1.0"/>
<ellipse cx="243.50" cy="610.20" rx="3.20" ry="3.50" fill="#fff" stroke="#000" stroke-width="1.0"/>
<ellipse cx="402.50" cy="603.30" rx="3.20" ry="3.50" fill="#fff" stroke="#000" stroke-width="1.0"/>
<polygon points="80.70,811.72 88.30,811.72 84.50,818.92" fill="#000" stroke="#000" stroke-width="1.0"/>
<polygon points="83.18,789.12 90.78,789.12 86.98,796.32" fill="#000" stroke="#000" stroke-width="1.0"/>
<polygon points="85.67,768.92 93.27,768.92 89.47,776.12" fill="#000" stroke="#000" stroke-width="1.0"/>
<polygon points="90.64,755.12 98.24,755.12 94.44,762.32" fill="#000" stroke="#000" stroke-width="1.0"/>
<polygon points="100.58,735.12 108.17,735.12 104.38,742.32" fill="#000" stroke="#000" stroke-width="1.0"/>
<polygon points="120.45,689.12 128.05,689.12 124.25,696.32" fill="#000" stroke="#000" stroke-width="1.0"/>
<polygon points="160.20,661.62 167.80,661.62 164.00,668.82" fill="#000" stroke="#000" stroke-width="1.0"/>
<polygon points="239.70,627.42 247.30,627.42 243.50,634.62" fill="#000" stroke="#000" stroke-width="1.0"/>
<polygon points="398.70,614.62 406.30,614.62 402.50,621.82" fill="#000" stroke="#000" stroke-width="1.0"/>
<polygon points="80.80,817.32 88.20,817.32 84.50,810.52" fill="#fff" stroke="#000" stroke-width="1.0"/>
<polygon points="83.28,801.72 90.68,801.72 86.98,794.92" fill="#fff" stroke="#000" stroke-width="1.0"/>
<polygon points="85.77,788.72 93.17,788.72 89.47,781.92" fill="#fff" stroke="#000" stroke-width="1.0"/>
<polygon points="90.74,767.72 98.14,767.72 94.44,760.92" fill="#fff" stroke="#000" stroke-width="1.0"/>
<polygon points="100.67,734.72 108.08,734.72 104.38,727.92" fill="#fff" stroke="#000" stroke-width="1.0"/>
<polygon points="120.55,671.42 127.95,671.42 124.25,664.62" fill="#fff" stroke="#000" stroke-width="1.0"/>
<polygon points="160.30,606.82 167.70,606.82 164.00,600.02" fill="#fff" stroke="#000" stroke-width="1.0"/>
<polygon points="239.80,562.62 247.20,562.62 243.50,555.82" fill="#fff" stroke="#000" stroke-width="1.0"/>
<polygon points="398.80,555.72 406.20,555.72 402.50,548.92" fill="#fff" stroke="#000" stroke-width="1.0"/>
<rect x="81.30" y="811.40" width="6.40" height="6.40" fill="#000" stroke="#000" stroke-width="1.0"/>
<rect x="83.78" y="793.80" width="6.40" height="6.40" fill="#000" stroke="#000" stroke-width="1.0"/>
<rect x="86.27" y="780.80" width="6.40" height="6.40" fill="#000" stroke="#000" stroke-width="1.0"/>
<rect x="91.24" y="762.80" width="6.40" height="6.40" fill="#000" stroke="#000" stroke-width="1.0"/>
<rect x="101.17" y="726.80" width="6.40" height="6.40" fill="#000" stroke="#000" stroke-width="1.0"/>
<rect x="121.05" y="672.80" width="6.40" height="6.40" fill="#000" stroke="#000" stroke-width="1.0"/>
<rect x="160.80" y="637.80" width="6.40" height="6.40" fill="#000" stroke="#000" stroke-width="1.0"/>
<rect x="240.30" y="593.30" width="6.40" height="6.40" fill="#000" stroke="#000" stroke-width="1.0"/>
<rect x="399.30" y="544.00" width="6.40" height="6.40" fill="#000" stroke="#000" stroke-width="1.0"/>
<rect x="81.60" y="811.70" width="5.80" height="5.80" fill="#fff" stroke="#000" stroke-width="1.0"/>
<rect x="84.08" y="791.10" width="5.80" height="5.80" fill="#fff" stroke="#000" stroke-width="1.0"/>
<rect x="86.57" y="776.60" width="5.80" height="5.80" fill="#fff" stroke="#000" stroke-width="1.0"/>
<rect x="91.54" y="742.80" width="5.80" height="5.80" fill="#fff" stroke="#000" stroke-width="1.0"/>
<rect x="101.47" y="713.40" width="5.80" height="5.80" fill="#fff" stroke="#000" stroke-width="1.0"/>
<rect x="121.35" y="659.70" width="5.80" height="5.80" fill="#fff" stroke="#000" stroke-width="1.0"/>
<rect x="161.10" y="625.00" width="5.80" height="5.80" fill="#fff" stroke="#000" stroke-width="1.0"/>
<rect x="240.60" y="583.80" width="5.80" height="5.80" fill="#fff" stroke="#000" stroke-width="1.0"/>
<rect x="399.60" y="549.40" width="5.80" height="5.80" fill="#fff" stroke="#000" stroke-width="1.0"/>
<polygon points="84.50,809.70 88.60,814.60 84.50,819.50 80.40,814.60" fill="#000" stroke="#000" stroke-width="1.0"/>
<polygon points="86.98,796.10 91.08,801.00 86.98,805.90 82.88,801.00" fill="#000" stroke="#000" stroke-width="1.0"/>
<polygon points="89.47,782.70 93.57,787.60 89.47,792.50 85.37,787.60" fill="#000" stroke="#000" stroke-width="1.0"/>
<polygon points="94.44,767.10 98.54,772.00 94.44,776.90 90.34,772.00" fill="#000" stroke="#000" stroke-width="1.0"/>
<polygon points="104.38,738.60 108.47,743.50 104.38,748.40 100.28,743.50" fill="#000" stroke="#000" stroke-width="1.0"/>
<polygon points="124.25,691.00 128.35,695.90 124.25,700.80 120.15,695.90" fill="#000" stroke="#000" stroke-width="1.0"/>
<polygon points="164.00,661.60 168.10,666.50 164.00,671.40 159.90,666.50" fill="#000" stroke="#000" stroke-width="1.0"/>
<polygon points="243.50,628.10 247.60,633.00 243.50,637.90 239.40,633.00" fill="#000" stroke="#000" stroke-width="1.0"/>
<polygon points="402.50,615.10 406.60,620.00 402.50,624.90 398.40,620.00" fill="#000" stroke="#000" stroke-width="1.0"/>
<polygon points="84.50,810.00 88.30,814.60 84.50,819.20 80.70,814.60" fill="#fff" stroke="#000" stroke-width="1.0"/>
<polygon points="86.98,798.40 90.78,803.00 86.98,807.60 83.18,803.00" fill="#fff" stroke="#000" stroke-width="1.0"/>
<polygon points="89.47,789.80 93.27,794.40 89.47,799.00 85.67,794.40" fill="#fff" stroke="#000" stroke-width="1.0"/>
<polygon points="94.44,771.70 98.24,776.30 94.44,780.90 90.64,776.30" fill="#fff" stroke="#000" stroke-width="1.0"/>
<polygon points="104.38,730.40 108.17,735.00 104.38,739.60 100.58,735.00" fill="#fff" stroke="#000" stroke-width="1.0"/>
<polygon points="124.25,677.70 128.05,682.30 124.25,686.90 120.45,682.30" fill="#fff" stroke="#000" stroke-width="1.0"/>
<polygon points="164.00,631.30 167.80,635.90 164.00,640.50 160.20,635.90" fill="#fff" stroke="#000" stroke-width="1.0"/>
<polygon points="243.50,601.90 247.30,606.50 243.50,611.10 239.70,606.50" fill="#fff" stroke="#000" stroke-width="1.0"/>
<polygon points="402.50,585.60 406.30,590.20 402.50,594.80 398.70,590.20" fill="#fff" stroke="#000" stroke-width="1.0"/>
</g>
<g id="axesB">
<line x1="85.00" y1="478.20" x2="85.00" y2="816.00" stroke-width="2"/>
<line x1="84.00" y1="815.00" x2="437.70" y2="815.00" stroke-width="2"/>
<line x1="81.20" y1="478.75" x2="85.00" y2="478.75" stroke-width="1.2"/>
<line x1="81.20" y1="534.79" x2="85.00" y2="534.79" stroke-width="1.2"/>
<line x1="81.20" y1="590.83" x2="85.00" y2="590.83" stroke-width="1.2"/>
<line x1="81.20" y1="646.87" x2="85.00" y2="646.87" stroke-width="1.2"/>
<line x1="81.20" y1="702.91" x2="85.00" y2="702.91" stroke-width="1.2"/>
<line x1="81.20" y1="758.95" x2="85.00" y2="758.95" stroke-width="1.2"/>
<line x1="81.20" y1="814.99" x2="85.00" y2="814.99" stroke-width="1.2"/>
<line x1="164.00" y1="815.00" x2="164.00" y2="819.80" stroke-width="1.2"/>
<line x1="243.40" y1="815.00" x2="243.40" y2="819.80" stroke-width="1.2"/>
<line x1="323.10" y1="815.00" x2="323.10" y2="819.80" stroke-width="1.2"/>
<line x1="402.30" y1="815.00" x2="402.30" y2="819.80" stroke-width="1.2"/>
</g>
<ellipse cx="84.80" cy="815.10" rx="3.30" ry="4.30" fill="#fff" stroke="#000" stroke-width="1.0"/>
<polygon points="84.80,811.40 87.50,815.10 84.80,818.80 82.10,815.10" fill="#fff" stroke="#000" stroke-width="1.0"/>
<g id="textB" stroke="none">
<text transform="translate(74.00,486.35) scale(0.83,1)" font-size="20.8" text-anchor="end" stroke="#000" stroke-width="0.36" vector-effect="non-scaling-stroke" stroke-linejoin="round" >0.6</text>
<text transform="translate(74.00,542.39) scale(0.83,1)" font-size="20.8" text-anchor="end" stroke="#000" stroke-width="0.36" vector-effect="non-scaling-stroke" stroke-linejoin="round" >0.5</text>
<text transform="translate(74.00,598.43) scale(0.83,1)" font-size="20.8" text-anchor="end" stroke="#000" stroke-width="0.36" vector-effect="non-scaling-stroke" stroke-linejoin="round" >0.4</text>
<text transform="translate(74.00,654.47) scale(0.83,1)" font-size="20.8" text-anchor="end" stroke="#000" stroke-width="0.36" vector-effect="non-scaling-stroke" stroke-linejoin="round" >0.3</text>
<text transform="translate(74.00,710.51) scale(0.83,1)" font-size="20.8" text-anchor="end" stroke="#000" stroke-width="0.36" vector-effect="non-scaling-stroke" stroke-linejoin="round" >0.2</text>
<text transform="translate(74.00,766.55) scale(0.83,1)" font-size="20.8" text-anchor="end" stroke="#000" stroke-width="0.36" vector-effect="non-scaling-stroke" stroke-linejoin="round" >0.1</text>
<text transform="translate(74.00,822.59) scale(0.83,1)" font-size="20.8" text-anchor="end" stroke="#000" stroke-width="0.36" vector-effect="non-scaling-stroke" stroke-linejoin="round" >0.0</text>
<text transform="translate(84.40,842.10) scale(0.77,1)" font-size="20.4" text-anchor="middle" stroke="#000" stroke-width="0.32" vector-effect="non-scaling-stroke" stroke-linejoin="round" >0</text>
<text transform="translate(165.10,842.20) scale(0.77,1)" font-size="20.4" text-anchor="middle" stroke="#000" stroke-width="0.32" vector-effect="non-scaling-stroke" stroke-linejoin="round" >20</text>
<text transform="translate(244.50,842.20) scale(0.77,1)" font-size="20.4" text-anchor="middle" stroke="#000" stroke-width="0.32" vector-effect="non-scaling-stroke" stroke-linejoin="round" >40</text>
<text transform="translate(324.20,842.20) scale(0.77,1)" font-size="20.4" text-anchor="middle" stroke="#000" stroke-width="0.32" vector-effect="non-scaling-stroke" stroke-linejoin="round" >60</text>
<text transform="translate(403.40,842.20) scale(0.77,1)" font-size="20.4" text-anchor="middle" stroke="#000" stroke-width="0.32" vector-effect="non-scaling-stroke" stroke-linejoin="round" >80</text>
<text transform="translate(264.60,876.20) scale(1.005,1)" font-size="20.0" text-anchor="middle" stroke="#000" stroke-width="0.25" vector-effect="non-scaling-stroke" stroke-linejoin="round" letter-spacing="-0.7">[ADAMTS13] nM</text>
<text transform="translate(30.80,634.50) rotate(-90) scale(1.215,1)" font-size="17.3" text-anchor="middle" stroke="#000" stroke-width="0.3" vector-effect="non-scaling-stroke" stroke-linejoin="round" >Bound (OD450 nm)</text>
<text transform="translate(-0.80,482.00)" font-size="33.5" text-anchor="start"  >B</text>
</g>
<g id="legB">
<ellipse cx="431.80" cy="510.10" rx="4.80" ry="4.80" fill="#000" stroke="#000" stroke-width="1.1"/>
<ellipse cx="431.80" cy="533.63" rx="4.60" ry="4.60" fill="#fff" stroke="#000" stroke-width="1.1"/>
<polygon points="427.15,553.44 436.45,553.44 431.80,562.74" fill="#000" stroke="#000" stroke-width="1.1"/>
<polygon points="427.30,583.68 436.30,583.68 431.80,575.08" fill="#fff" stroke="#000" stroke-width="1.1"/>
<rect x="427.50" y="599.92" width="8.60" height="8.60" fill="#000" stroke="#000" stroke-width="1.1"/>
<rect x="427.70" y="623.65" width="8.20" height="8.20" fill="#fff" stroke="#000" stroke-width="1.1"/>
<polygon points="431.80,645.28 437.70,651.28 431.80,657.28 425.90,651.28" fill="#000" stroke="#000" stroke-width="1.1"/>
<polygon points="431.80,669.21 437.30,674.81 431.80,680.41 426.30,674.81" fill="#fff" stroke="#000" stroke-width="1.1"/>
</g><g stroke="none">
<text transform="translate(459.40,515.30) scale(1.1,1)" font-size="15.7" text-anchor="start" stroke="#000" stroke-width="0.3" vector-effect="non-scaling-stroke" stroke-linejoin="round" letter-spacing="-0.35">WT</text>
<text transform="translate(459.40,538.83) scale(1.1,1)" font-size="15.7" text-anchor="start" stroke="#000" stroke-width="0.3" vector-effect="non-scaling-stroke" stroke-linejoin="round" letter-spacing="-0.35">Del6aa</text>
<text transform="translate(459.40,562.36) scale(1.1,1)" font-size="15.7" text-anchor="start" stroke="#000" stroke-width="0.3" vector-effect="non-scaling-stroke" stroke-linejoin="round" letter-spacing="-0.35">R659A</text>
<text transform="translate(459.40,585.89) scale(1.1,1)" font-size="15.7" text-anchor="start" stroke="#000" stroke-width="0.3" vector-effect="non-scaling-stroke" stroke-linejoin="round" letter-spacing="-0.35">R660A</text>
<text transform="translate(459.40,609.42) scale(1.1,1)" font-size="15.7" text-anchor="start" stroke="#000" stroke-width="0.3" vector-effect="non-scaling-stroke" stroke-linejoin="round" letter-spacing="-0.35">Y661A</text>
<text transform="translate(459.40,632.95) scale(1.1,1)" font-size="15.7" text-anchor="start" stroke="#000" stroke-width="0.3" vector-effect="non-scaling-stroke" stroke-linejoin="round" letter-spacing="-0.35">G662A</text>
<text transform="translate(459.40,656.48) scale(1.1,1)" font-size="15.7" text-anchor="start" stroke="#000" stroke-width="0.3" vector-effect="non-scaling-stroke" stroke-linejoin="round" letter-spacing="-0.35">E663A</text>
<text transform="translate(459.40,680.01) scale(1.1,1)" font-size="15.7" text-anchor="start" stroke="#000" stroke-width="0.3" vector-effect="non-scaling-stroke" stroke-linejoin="round" letter-spacing="-0.35">E664A</text>
</g>
</svg>
</body></html>
